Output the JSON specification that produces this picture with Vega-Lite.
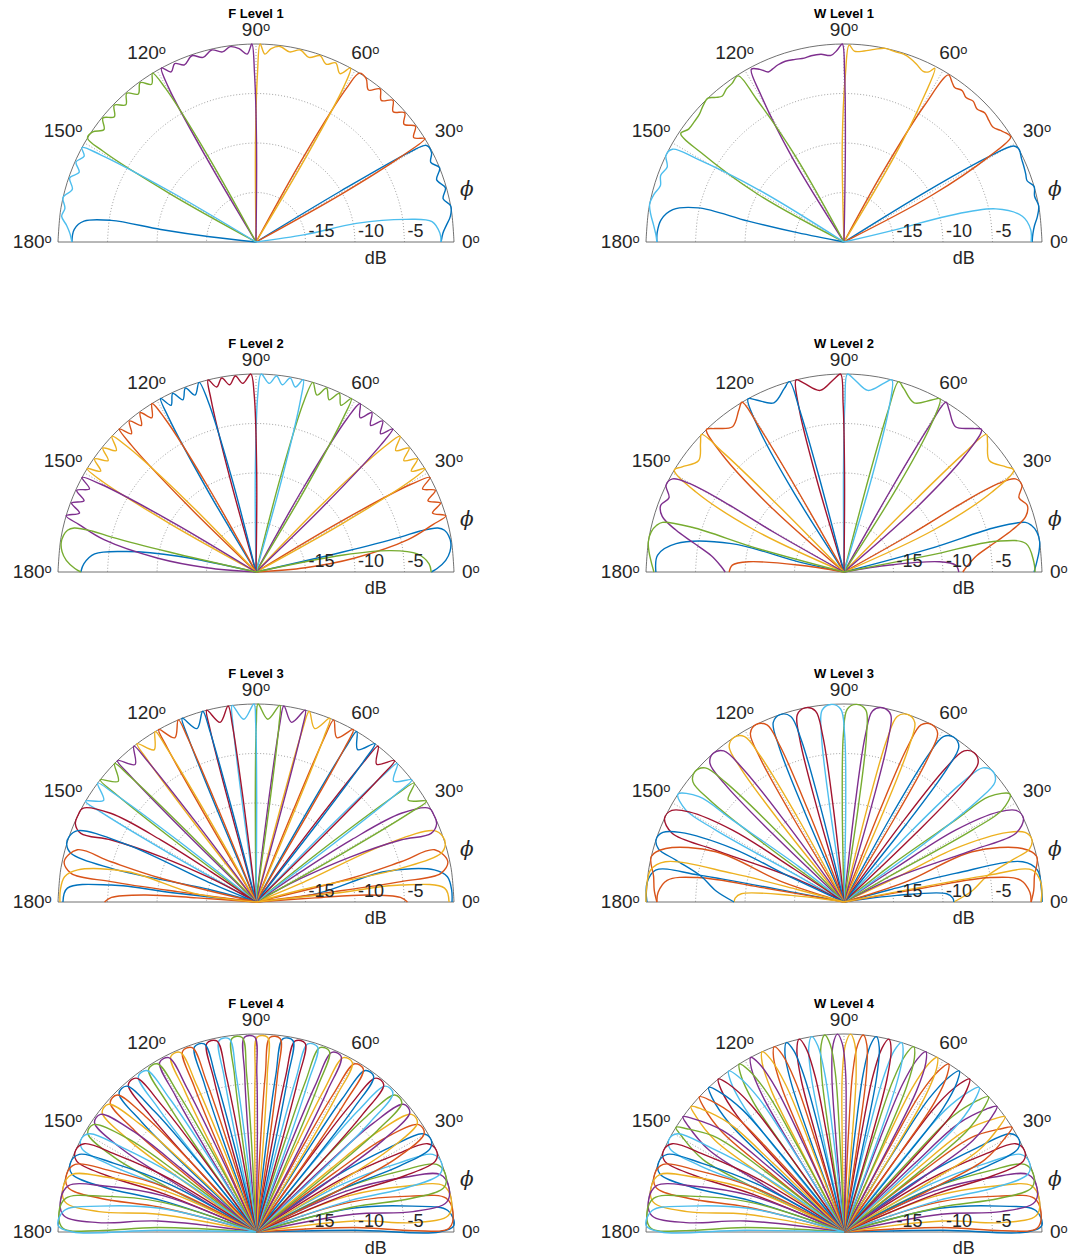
{"$schema":"https://vega.github.io/schema/vega-lite/v6.json","padding":{"left":12,"top":8,"right":5,"bottom":5},"bounds":"flush","columns":2,"spacing":{"row":132,"column":192},"config":{"view":{"stroke":null}},
"datasets":{
"grid":[
{"g":"r5","t":0,"r":5},{"g":"r5","t":10,"r":5},{"g":"r5","t":20,"r":5},{"g":"r5","t":30,"r":5},{"g":"r5","t":40,"r":5},{"g":"r5","t":50,"r":5},{"g":"r5","t":60,"r":5},{"g":"r5","t":70,"r":5},{"g":"r5","t":80,"r":5},{"g":"r5","t":90,"r":5},{"g":"r5","t":100,"r":5},{"g":"r5","t":110,"r":5},{"g":"r5","t":120,"r":5},{"g":"r5","t":130,"r":5},{"g":"r5","t":140,"r":5},{"g":"r5","t":150,"r":5},{"g":"r5","t":160,"r":5},{"g":"r5","t":170,"r":5},{"g":"r5","t":180,"r":5},
{"g":"r10","t":0,"r":10},{"g":"r10","t":10,"r":10},{"g":"r10","t":20,"r":10},{"g":"r10","t":30,"r":10},{"g":"r10","t":40,"r":10},{"g":"r10","t":50,"r":10},{"g":"r10","t":60,"r":10},{"g":"r10","t":70,"r":10},{"g":"r10","t":80,"r":10},{"g":"r10","t":90,"r":10},{"g":"r10","t":100,"r":10},{"g":"r10","t":110,"r":10},{"g":"r10","t":120,"r":10},{"g":"r10","t":130,"r":10},{"g":"r10","t":140,"r":10},{"g":"r10","t":150,"r":10},{"g":"r10","t":160,"r":10},{"g":"r10","t":170,"r":10},{"g":"r10","t":180,"r":10},
{"g":"r15","t":0,"r":15},{"g":"r15","t":10,"r":15},{"g":"r15","t":20,"r":15},{"g":"r15","t":30,"r":15},{"g":"r15","t":40,"r":15},{"g":"r15","t":50,"r":15},{"g":"r15","t":60,"r":15},{"g":"r15","t":70,"r":15},{"g":"r15","t":80,"r":15},{"g":"r15","t":90,"r":15},{"g":"r15","t":100,"r":15},{"g":"r15","t":110,"r":15},{"g":"r15","t":120,"r":15},{"g":"r15","t":130,"r":15},{"g":"r15","t":140,"r":15},{"g":"r15","t":150,"r":15},{"g":"r15","t":160,"r":15},{"g":"r15","t":170,"r":15},{"g":"r15","t":180,"r":15},
{"g":"rim","t":0,"r":20},{"g":"rim","t":10,"r":20},{"g":"rim","t":20,"r":20},{"g":"rim","t":30,"r":20},{"g":"rim","t":40,"r":20},{"g":"rim","t":50,"r":20},{"g":"rim","t":60,"r":20},{"g":"rim","t":70,"r":20},{"g":"rim","t":80,"r":20},{"g":"rim","t":90,"r":20},{"g":"rim","t":100,"r":20},{"g":"rim","t":110,"r":20},{"g":"rim","t":120,"r":20},{"g":"rim","t":130,"r":20},{"g":"rim","t":140,"r":20},{"g":"rim","t":150,"r":20},{"g":"rim","t":160,"r":20},{"g":"rim","t":170,"r":20},{"g":"rim","t":180,"r":20},
{"g":"s30","t":30,"r":0},{"g":"s30","t":30,"r":20},{"g":"s60","t":60,"r":0},{"g":"s60","t":60,"r":20},{"g":"s90","t":90,"r":0},{"g":"s90","t":90,"r":20},{"g":"s120","t":120,"r":0},{"g":"s120","t":120,"r":20},{"g":"s150","t":150,"r":0},{"g":"s150","t":150,"r":20},
{"g":"base","t":0,"r":20},{"g":"base","t":180,"r":20}],
"lab":[{"t":0,"s":"0ᵒ"},{"t":30,"s":"30ᵒ"},{"t":60,"s":"60ᵒ"},{"t":90,"s":"90ᵒ"},{"t":120,"s":"120ᵒ"},{"t":150,"s":"150ᵒ"},{"t":180,"s":"180ᵒ"}],
"dbl":[{"v":-15,"s":"-15"},{"v":-10,"s":"-10"},{"v":-5,"s":"-5"}],
"F1":[
{"b":1,"t":0,"d":-1.3},{"b":1,"t":2.7,"d":-1.1},{"b":1,"t":5,"d":-0.7},{"b":1,"t":7.5,"d":-0.2},{"b":1,"t":10.5,"d":0},{"b":1,"t":13,"d":-0.6},{"b":1,"t":16,"d":-0.1},{"b":1,"t":19,"d":-0.7},{"b":1,"t":22,"d":0},{"b":1,"t":24.5,"d":-0.6},{"b":1,"t":27,"d":-0.1},{"b":1,"t":29.5,"d":-0.2},{"b":1,"t":30.3,"d":-2},{"b":1,"t":31,"d":-10},{"b":1,"t":32,"d":-20},{"b":1,"t":173.5,"d":-20},{"b":1,"t":173.5,"d":-15.3},{"b":1,"t":172.5,"d":-10.3},{"b":1,"t":171.5,"d":-5.2},{"b":1,"t":173.1,"d":-2.5},{"b":1,"t":176,"d":-1.6},{"b":1,"t":180,"d":-1.4},
{"b":2,"t":28.5,"d":-20},{"b":2,"t":29.3,"d":-10},{"b":2,"t":30.5,"d":-3},{"b":2,"t":31.5,"d":0},{"b":2,"t":33.5,"d":-0.9},{"b":2,"t":36,"d":-0.1},{"b":2,"t":38.5,"d":-0.9},{"b":2,"t":41,"d":-0.1},{"b":2,"t":43.5,"d":-0.9},{"b":2,"t":46,"d":-0.1},{"b":2,"t":48.5,"d":-0.9},{"b":2,"t":51,"d":-0.1},{"b":2,"t":53.5,"d":-0.9},{"b":2,"t":56,"d":-0.1},{"b":2,"t":58.5,"d":0},{"b":2,"t":59.5,"d":-2},{"b":2,"t":60.8,"d":-10},{"b":2,"t":61.5,"d":-20},
{"b":3,"t":59,"d":-20},{"b":3,"t":59.5,"d":-10},{"b":3,"t":60.5,"d":-2},{"b":3,"t":61.5,"d":0},{"b":3,"t":63.5,"d":-1},{"b":3,"t":66,"d":-0.2},{"b":3,"t":68.5,"d":-0.7},{"b":3,"t":71,"d":-0.1},{"b":3,"t":74,"d":-0.6},{"b":3,"t":77,"d":-0.1},{"b":3,"t":80,"d":-0.5},{"b":3,"t":83,"d":-0.1},{"b":3,"t":85.5,"d":-0.4},{"b":3,"t":87.3,"d":-1},{"b":3,"t":88.8,"d":0},{"b":3,"t":89.5,"d":-3},{"b":3,"t":90.3,"d":-10},{"b":3,"t":90.6,"d":-20},
{"b":4,"t":89.4,"d":-20},{"b":4,"t":89.7,"d":-10},{"b":4,"t":90.5,"d":-3},{"b":4,"t":91.2,"d":0},{"b":4,"t":92.7,"d":-1},{"b":4,"t":95,"d":-0.4},{"b":4,"t":97.5,"d":-0.1},{"b":4,"t":100,"d":-0.5},{"b":4,"t":103,"d":-0.1},{"b":4,"t":106,"d":-0.6},{"b":4,"t":109,"d":-0.1},{"b":4,"t":112,"d":-0.7},{"b":4,"t":114.5,"d":-0.2},{"b":4,"t":116.5,"d":-0.8},{"b":4,"t":118.5,"d":0},{"b":4,"t":119.5,"d":-2},{"b":4,"t":120.5,"d":-10},{"b":4,"t":121,"d":-20},
{"b":5,"t":118.5,"d":-20},{"b":5,"t":119.2,"d":-10},{"b":5,"t":120.5,"d":-2},{"b":5,"t":121.5,"d":0},{"b":5,"t":123.5,"d":-0.9},{"b":5,"t":126,"d":-0.1},{"b":5,"t":128.5,"d":-0.9},{"b":5,"t":131,"d":-0.1},{"b":5,"t":133.5,"d":-0.9},{"b":5,"t":136,"d":-0.1},{"b":5,"t":138.5,"d":-0.9},{"b":5,"t":141,"d":-0.1},{"b":5,"t":143.5,"d":-0.9},{"b":5,"t":146,"d":-0.1},{"b":5,"t":148.3,"d":0},{"b":5,"t":149.3,"d":-2},{"b":5,"t":150.7,"d":-10},{"b":5,"t":151.5,"d":-20},
{"b":6,"t":0,"d":-1.3},{"b":6,"t":2.7,"d":-1.4},{"b":6,"t":6.6,"d":-2.1},{"b":6,"t":8.6,"d":-4.7},{"b":6,"t":10.5,"d":-9.7},{"b":6,"t":8.5,"d":-15},{"b":6,"t":8,"d":-20},{"b":6,"t":148.5,"d":-20},{"b":6,"t":149.5,"d":-10},{"b":6,"t":150.7,"d":-2},{"b":6,"t":151.5,"d":0},{"b":6,"t":153.5,"d":-0.6},{"b":6,"t":156,"d":-0.1},{"b":6,"t":158.5,"d":-0.8},{"b":6,"t":161,"d":-0.1},{"b":6,"t":164,"d":-0.7},{"b":6,"t":167,"d":0},{"b":6,"t":170,"d":-0.4},{"b":6,"t":172.5,"d":-0.2},{"b":6,"t":175,"d":-0.8},{"b":6,"t":177.5,"d":-1.2},{"b":6,"t":180,"d":-1.4}],
"W1":[
{"b":1,"t":0,"d":-1},{"b":1,"t":2.5,"d":-0.9},{"b":1,"t":4.8,"d":-0.7},{"b":1,"t":7.5,"d":-0.3},{"b":1,"t":10.5,"d":0},{"b":1,"t":13.5,"d":-0.2},{"b":1,"t":16.3,"d":0},{"b":1,"t":18.5,"d":-0.5},{"b":1,"t":20.5,"d":-0.4},{"b":1,"t":22.7,"d":-0.3},{"b":1,"t":25,"d":-0.2},{"b":1,"t":28,"d":0},{"b":1,"t":29.5,"d":-0.3},{"b":1,"t":30.5,"d":-3},{"b":1,"t":31.5,"d":-10},{"b":1,"t":32,"d":-20},{"b":1,"t":169.5,"d":-20},{"b":1,"t":168.7,"d":-15.2},{"b":1,"t":167.7,"d":-10.1},{"b":1,"t":166.8,"d":-4.9},{"b":1,"t":169.3,"d":-2.4},{"b":1,"t":173,"d":-1.4},{"b":1,"t":177.2,"d":-1.1},{"b":1,"t":180,"d":-1.1},
{"b":2,"t":27,"d":-20},{"b":2,"t":28,"d":-10},{"b":2,"t":30.5,"d":-3},{"b":2,"t":32.2,"d":-0.1},{"b":2,"t":34,"d":-0.3},{"b":2,"t":35.5,"d":-0.6},{"b":2,"t":37.7,"d":-1},{"b":2,"t":40,"d":-0.9},{"b":2,"t":42.5,"d":-0.7},{"b":2,"t":45,"d":-1},{"b":2,"t":47.5,"d":-0.7},{"b":2,"t":49.8,"d":-0.9},{"b":2,"t":52,"d":-0.6},{"b":2,"t":54.4,"d":-0.8},{"b":2,"t":56,"d":-0.5},{"b":2,"t":58,"d":-0.1},{"b":2,"t":59.5,"d":-4},{"b":2,"t":61,"d":-12},{"b":2,"t":61.5,"d":-20},
{"b":3,"t":59,"d":-20},{"b":3,"t":59.5,"d":-10},{"b":3,"t":61,"d":-4},{"b":3,"t":62.4,"d":-0.2},{"b":3,"t":63.5,"d":-0.8},{"b":3,"t":65.1,"d":-1},{"b":3,"t":67.8,"d":-0.6},{"b":3,"t":70,"d":-0.3},{"b":3,"t":72.4,"d":-0.1},{"b":3,"t":75,"d":-0.1},{"b":3,"t":78,"d":0},{"b":3,"t":81,"d":-0.3},{"b":3,"t":84,"d":-0.6},{"b":3,"t":86.9,"d":-0.7},{"b":3,"t":88.5,"d":-0.1},{"b":3,"t":89.5,"d":-3},{"b":3,"t":91,"d":-10},{"b":3,"t":91.5,"d":-20},
{"b":4,"t":89,"d":-20},{"b":4,"t":89.2,"d":-10},{"b":4,"t":89.8,"d":-3},{"b":4,"t":90.5,"d":0},{"b":4,"t":92,"d":-0.6},{"b":4,"t":94,"d":-1.1},{"b":4,"t":97,"d":-0.9},{"b":4,"t":100,"d":-0.9},{"b":4,"t":102.2,"d":-1},{"b":4,"t":105,"d":-0.9},{"b":4,"t":108,"d":-0.8},{"b":4,"t":110.4,"d":-0.9},{"b":4,"t":112.5,"d":-1.1},{"b":4,"t":114,"d":-1.2},{"b":4,"t":116,"d":-0.6},{"b":4,"t":118.2,"d":-0.2},{"b":4,"t":119.5,"d":-3},{"b":4,"t":121.5,"d":-10},{"b":4,"t":122.5,"d":-20},
{"b":5,"t":118.5,"d":-20},{"b":5,"t":119.5,"d":-10},{"b":5,"t":121.5,"d":-3},{"b":5,"t":122.5,"d":-0.1},{"b":5,"t":125.3,"d":-0.4},{"b":5,"t":127.5,"d":-0.5},{"b":5,"t":129.8,"d":-0.8},{"b":5,"t":131.5,"d":-0.5},{"b":5,"t":133.4,"d":0},{"b":5,"t":136,"d":-0.2},{"b":5,"t":138.5,"d":-0.5},{"b":5,"t":141,"d":-0.6},{"b":5,"t":144,"d":-0.6},{"b":5,"t":146.4,"d":-0.2},{"b":5,"t":148,"d":-3},{"b":5,"t":151,"d":-10},{"b":5,"t":153,"d":-20},
{"b":6,"t":0,"d":-1.1},{"b":6,"t":3.8,"d":-1.1},{"b":6,"t":8.2,"d":-1.8},{"b":6,"t":12.3,"d":-4.3},{"b":6,"t":14.1,"d":-9.3},{"b":6,"t":13.4,"d":-14.5},{"b":6,"t":13,"d":-20},{"b":6,"t":147.5,"d":-20},{"b":6,"t":148.5,"d":-10},{"b":6,"t":150.5,"d":-3},{"b":6,"t":151.6,"d":-0.3},{"b":6,"t":154,"d":0},{"b":6,"t":157,"d":-0.6},{"b":6,"t":160,"d":-0.3},{"b":6,"t":163,"d":-0.6},{"b":6,"t":166,"d":-0.2},{"b":6,"t":169,"d":0},{"b":6,"t":172,"d":-0.3},{"b":6,"t":175,"d":-0.7},{"b":6,"t":178,"d":-1},{"b":6,"t":180,"d":-1.1}],
"F2":[
{"b":1,"t":0,"d":-2.3},{"b":1,"t":1.1,"d":-1.7},{"b":1,"t":3.5,"d":-0.8},{"b":1,"t":6,"d":-0.3},{"b":1,"t":8.5,"d":-0.1},{"b":1,"t":10.7,"d":-0.2},{"b":1,"t":12.5,"d":-0.5},{"b":1,"t":13.6,"d":-1.1},{"b":1,"t":14,"d":-3},{"b":1,"t":13.6,"d":-5},{"b":1,"t":13,"d":-11},{"b":1,"t":12,"d":-20},{"b":1,"t":169,"d":-20},{"b":1,"t":168.5,"d":-12},{"b":1,"t":171,"d":-6.8},{"b":1,"t":173.6,"d":-3.6},{"b":1,"t":177.2,"d":-2.6},{"b":1,"t":180,"d":-2.3},
{"b":2,"t":3,"d":-20},{"b":2,"t":5,"d":-15},{"b":2,"t":8,"d":-10},{"b":2,"t":12,"d":-4.3},{"b":2,"t":15,"d":-1.5},{"b":2,"t":16.5,"d":0},{"b":2,"t":18.5,"d":-1.2},{"b":2,"t":20.5,"d":-0.1},{"b":2,"t":22.5,"d":-1.2},{"b":2,"t":24.5,"d":-0.1},{"b":2,"t":26.5,"d":-1.2},{"b":2,"t":28.5,"d":0},{"b":2,"t":29.5,"d":-2},{"b":2,"t":30.8,"d":-10},{"b":2,"t":31.5,"d":-20},
{"b":3,"t":28.5,"d":-20},{"b":3,"t":29.3,"d":-10},{"b":3,"t":30.5,"d":-2},{"b":3,"t":31.5,"d":0},{"b":3,"t":33,"d":-1.3},{"b":3,"t":35,"d":-0.1},{"b":3,"t":37,"d":-1.3},{"b":3,"t":39,"d":-0.1},{"b":3,"t":41,"d":-1.3},{"b":3,"t":43.3,"d":0},{"b":3,"t":44.3,"d":-2},{"b":3,"t":45.7,"d":-10},{"b":3,"t":46.5,"d":-20},
{"b":4,"t":43.5,"d":-20},{"b":4,"t":44.3,"d":-10},{"b":4,"t":45.5,"d":-2},{"b":4,"t":46.3,"d":0},{"b":4,"t":48,"d":-1.2},{"b":4,"t":50,"d":-0.1},{"b":4,"t":52,"d":-1.2},{"b":4,"t":54,"d":-0.1},{"b":4,"t":56,"d":-1.2},{"b":4,"t":58.3,"d":0},{"b":4,"t":59.3,"d":-2},{"b":4,"t":60.6,"d":-10},{"b":4,"t":61.3,"d":-20},
{"b":5,"t":58.7,"d":-20},{"b":5,"t":59.4,"d":-10},{"b":5,"t":60.5,"d":-2},{"b":5,"t":61.2,"d":0},{"b":5,"t":63,"d":-1.1},{"b":5,"t":65,"d":-0.1},{"b":5,"t":67,"d":-1.1},{"b":5,"t":69,"d":-0.1},{"b":5,"t":71,"d":-1.1},{"b":5,"t":73.3,"d":0},{"b":5,"t":74.3,"d":-2},{"b":5,"t":75.5,"d":-10},{"b":5,"t":76.1,"d":-20},
{"b":6,"t":73.9,"d":-20},{"b":6,"t":74.5,"d":-10},{"b":6,"t":75.5,"d":-2},{"b":6,"t":76.2,"d":0},{"b":6,"t":78,"d":-0.9},{"b":6,"t":80,"d":-0.1},{"b":6,"t":82,"d":-0.9},{"b":6,"t":84,"d":-0.1},{"b":6,"t":86,"d":-0.9},{"b":6,"t":88.5,"d":0},{"b":6,"t":89.4,"d":-2},{"b":6,"t":90.4,"d":-10},{"b":6,"t":91,"d":-20},
{"b":7,"t":89,"d":-20},{"b":7,"t":89.6,"d":-10},{"b":7,"t":90.6,"d":-2},{"b":7,"t":91.5,"d":0},{"b":7,"t":94,"d":-0.9},{"b":7,"t":96,"d":-0.1},{"b":7,"t":98,"d":-0.9},{"b":7,"t":100,"d":-0.1},{"b":7,"t":102,"d":-0.9},{"b":7,"t":104,"d":0},{"b":7,"t":104.6,"d":-2},{"b":7,"t":105.5,"d":-10},{"b":7,"t":106.1,"d":-20},
{"b":8,"t":103.9,"d":-20},{"b":8,"t":104.5,"d":-10},{"b":8,"t":105.7,"d":-2},{"b":8,"t":106.7,"d":0},{"b":8,"t":109,"d":-1.1},{"b":8,"t":111,"d":-0.1},{"b":8,"t":113,"d":-1.1},{"b":8,"t":115,"d":-0.1},{"b":8,"t":117,"d":-1.1},{"b":8,"t":118.8,"d":0},{"b":8,"t":119.5,"d":-2},{"b":8,"t":120.6,"d":-10},{"b":8,"t":121.3,"d":-20},
{"b":9,"t":118.7,"d":-20},{"b":9,"t":119.4,"d":-10},{"b":9,"t":120.7,"d":-2},{"b":9,"t":121.7,"d":0},{"b":9,"t":124,"d":-1.2},{"b":9,"t":126,"d":-0.1},{"b":9,"t":128,"d":-1.2},{"b":9,"t":130,"d":-0.1},{"b":9,"t":132,"d":-1.2},{"b":9,"t":133.7,"d":0},{"b":9,"t":134.5,"d":-2},{"b":9,"t":135.7,"d":-10},{"b":9,"t":136.5,"d":-20},
{"b":10,"t":133.5,"d":-20},{"b":10,"t":134.3,"d":-10},{"b":10,"t":135.7,"d":-2},{"b":10,"t":136.7,"d":0},{"b":10,"t":139,"d":-1.3},{"b":10,"t":141,"d":-0.1},{"b":10,"t":143,"d":-1.3},{"b":10,"t":145,"d":-0.1},{"b":10,"t":147,"d":-1.3},{"b":10,"t":148.5,"d":0},{"b":10,"t":149.5,"d":-2},{"b":10,"t":150.7,"d":-10},{"b":10,"t":151.5,"d":-20},
{"b":11,"t":148.5,"d":-20},{"b":11,"t":149.2,"d":-10},{"b":11,"t":150.5,"d":-2},{"b":11,"t":151.5,"d":0},{"b":11,"t":153.5,"d":-1.2},{"b":11,"t":155.5,"d":-0.1},{"b":11,"t":157.5,"d":-1.2},{"b":11,"t":159.5,"d":-0.1},{"b":11,"t":161.5,"d":-1.2},{"b":11,"t":163.5,"d":0},{"b":11,"t":165,"d":-1.5},{"b":11,"t":168,"d":-4.3},{"b":11,"t":172,"d":-10},{"b":11,"t":175,"d":-15},{"b":11,"t":177,"d":-20},
{"b":12,"t":0,"d":-2.3},{"b":12,"t":2.7,"d":-2.5},{"b":12,"t":6.4,"d":-3.6},{"b":12,"t":9,"d":-6.2},{"b":12,"t":11,"d":-11},{"b":12,"t":11,"d":-20},{"b":12,"t":168,"d":-20},{"b":12,"t":167,"d":-11},{"b":12,"t":166.4,"d":-5},{"b":12,"t":166,"d":-3},{"b":12,"t":166.4,"d":-1.1},{"b":12,"t":167.5,"d":-0.5},{"b":12,"t":169.3,"d":-0.2},{"b":12,"t":171.5,"d":-0.1},{"b":12,"t":174,"d":-0.3},{"b":12,"t":176.5,"d":-0.8},{"b":12,"t":178.9,"d":-1.7},{"b":12,"t":180,"d":-2.3}],
"W2":[
{"b":1,"t":0,"d":-0.8},{"b":1,"t":3,"d":-0.5},{"b":1,"t":5.9,"d":-0.2},{"b":1,"t":8.8,"d":0},{"b":1,"t":11.7,"d":-0.1},{"b":1,"t":14,"d":-0.5},{"b":1,"t":15.3,"d":-1},{"b":1,"t":16.4,"d":-4},{"b":1,"t":15.2,"d":-11},{"b":1,"t":14,"d":-20},{"b":1,"t":167,"d":-20},{"b":1,"t":167.4,"d":-15.3},{"b":1,"t":165.8,"d":-8.3},{"b":1,"t":170.4,"d":-2.8},{"b":1,"t":174.8,"d":-1.1},{"b":1,"t":180,"d":-1},
{"b":2,"t":0,"d":-8},{"b":2,"t":3,"d":-7.5},{"b":2,"t":7,"d":-6.5},{"b":2,"t":11,"d":-4.5},{"b":2,"t":14,"d":-2.5},{"b":2,"t":17,"d":-0.8},{"b":2,"t":20,"d":-0.3},{"b":2,"t":23,"d":-0.8},{"b":2,"t":26,"d":0},{"b":2,"t":28.5,"d":-0.3},{"b":2,"t":29.8,"d":-2},{"b":2,"t":30.3,"d":-6},{"b":2,"t":29.5,"d":-12},{"b":2,"t":28.5,"d":-20},{"b":2,"t":171,"d":-20},{"b":2,"t":171.4,"d":-15.3},{"b":2,"t":173.9,"d":-10.3},{"b":2,"t":176.5,"d":-8.7},{"b":2,"t":180,"d":-8.4},
{"b":3,"t":23.9,"d":-20},{"b":3,"t":25.1,"d":-10},{"b":3,"t":28.4,"d":-3},{"b":3,"t":31,"d":0},{"b":3,"t":33,"d":-0.5},{"b":3,"t":37.5,"d":-1.5},{"b":3,"t":42,"d":-0.5},{"b":3,"t":44,"d":0},{"b":3,"t":44.7,"d":-3},{"b":3,"t":45.3,"d":-10},{"b":3,"t":45.6,"d":-20},
{"b":4,"t":40.8,"d":-20},{"b":4,"t":41.7,"d":-10},{"b":4,"t":43.9,"d":-3},{"b":4,"t":46,"d":0},{"b":4,"t":48,"d":-0.5},{"b":4,"t":52.5,"d":-1.5},{"b":4,"t":57,"d":-0.5},{"b":4,"t":59,"d":0},{"b":4,"t":59.7,"d":-3},{"b":4,"t":60.3,"d":-10},{"b":4,"t":60.6,"d":-20},
{"b":5,"t":57.1,"d":-20},{"b":5,"t":57.8,"d":-10},{"b":5,"t":59.3,"d":-3},{"b":5,"t":61,"d":0},{"b":5,"t":63,"d":-0.5},{"b":5,"t":67.5,"d":-1.5},{"b":5,"t":72,"d":-0.5},{"b":5,"t":74,"d":0},{"b":5,"t":74.7,"d":-3},{"b":5,"t":75.3,"d":-10},{"b":5,"t":75.6,"d":-20},
{"b":6,"t":73,"d":-20},{"b":6,"t":73.6,"d":-10},{"b":6,"t":74.6,"d":-3},{"b":6,"t":76,"d":0},{"b":6,"t":78,"d":-0.5},{"b":6,"t":82.5,"d":-1.5},{"b":6,"t":87,"d":-0.5},{"b":6,"t":89,"d":0},{"b":6,"t":89.7,"d":-3},{"b":6,"t":90.3,"d":-10},{"b":6,"t":90.6,"d":-20},
{"b":7,"t":89.4,"d":-20},{"b":7,"t":89.7,"d":-10},{"b":7,"t":90.3,"d":-3},{"b":7,"t":91,"d":0},{"b":7,"t":93,"d":-0.5},{"b":7,"t":97.5,"d":-1.5},{"b":7,"t":102,"d":-0.5},{"b":7,"t":104,"d":0},{"b":7,"t":105.4,"d":-3},{"b":7,"t":106.4,"d":-10},{"b":7,"t":107,"d":-20},
{"b":8,"t":104.4,"d":-20},{"b":8,"t":104.7,"d":-10},{"b":8,"t":105.3,"d":-3},{"b":8,"t":106,"d":0},{"b":8,"t":108,"d":-0.5},{"b":8,"t":112.5,"d":-1.5},{"b":8,"t":117,"d":-0.5},{"b":8,"t":119,"d":0},{"b":8,"t":120.7,"d":-3},{"b":8,"t":122.2,"d":-10},{"b":8,"t":122.9,"d":-20},
{"b":9,"t":119.4,"d":-20},{"b":9,"t":119.7,"d":-10},{"b":9,"t":120.3,"d":-3},{"b":9,"t":121,"d":0},{"b":9,"t":123,"d":-0.5},{"b":9,"t":127.5,"d":-1.5},{"b":9,"t":132,"d":-0.5},{"b":9,"t":134,"d":0},{"b":9,"t":136.1,"d":-3},{"b":9,"t":138.3,"d":-10},{"b":9,"t":139.2,"d":-20},
{"b":10,"t":134.4,"d":-20},{"b":10,"t":134.7,"d":-10},{"b":10,"t":135.3,"d":-3},{"b":10,"t":136,"d":0},{"b":10,"t":138,"d":-0.5},{"b":10,"t":142.5,"d":-1.5},{"b":10,"t":147,"d":-0.5},{"b":10,"t":149,"d":0},{"b":10,"t":151.6,"d":-3},{"b":10,"t":154.9,"d":-10},{"b":10,"t":156.1,"d":-20},
{"b":11,"t":0,"d":-8.4},{"b":11,"t":3.5,"d":-8.7},{"b":11,"t":6.1,"d":-10.3},{"b":11,"t":8.6,"d":-15.3},{"b":11,"t":9,"d":-20},{"b":11,"t":151.5,"d":-20},{"b":11,"t":150.5,"d":-12},{"b":11,"t":149.7,"d":-6},{"b":11,"t":150.2,"d":-2},{"b":11,"t":151.5,"d":-0.3},{"b":11,"t":154,"d":0},{"b":11,"t":157,"d":-0.8},{"b":11,"t":160,"d":-0.3},{"b":11,"t":163,"d":-0.8},{"b":11,"t":166,"d":-2.5},{"b":11,"t":169,"d":-4.5},{"b":11,"t":173,"d":-6.5},{"b":11,"t":177,"d":-7.5},{"b":11,"t":180,"d":-8},
{"b":12,"t":0,"d":-0.7},{"b":12,"t":3.1,"d":-0.8},{"b":12,"t":8.9,"d":-1.4},{"b":12,"t":11.4,"d":-4.3},{"b":12,"t":11,"d":-11.1},{"b":12,"t":11.5,"d":-20},{"b":12,"t":166,"d":-20},{"b":12,"t":164.8,"d":-11},{"b":12,"t":163.6,"d":-4},{"b":12,"t":164.7,"d":-1},{"b":12,"t":166,"d":-0.5},{"b":12,"t":168.3,"d":-0.1},{"b":12,"t":171.2,"d":0},{"b":12,"t":174.1,"d":-0.2},{"b":12,"t":177,"d":-0.5},{"b":12,"t":180,"d":-0.8}],
"F3":[
{"b":1,"t":0,"d":-0.2},{"b":1,"t":3.5,"d":-0.2},{"b":1,"t":7.5,"d":-0.5},{"b":1,"t":10.2,"d":-1.7},{"b":1,"t":13.3,"d":-6.7},{"b":1,"t":8,"d":-13.7},{"b":1,"t":8,"d":-20},{"b":1,"t":174,"d":-20},{"b":1,"t":173.7,"d":-12},{"b":1,"t":173.3,"d":-5.3},{"b":1,"t":175.8,"d":-0.9},{"b":1,"t":180,"d":-0.5},
{"b":2,"t":7,"d":-20},{"b":2,"t":7.5,"d":-12},{"b":2,"t":8,"d":-5.2},{"b":2,"t":8.8,"d":-1.1},{"b":2,"t":11.9,"d":-0.2},{"b":2,"t":16.3,"d":-1.2},{"b":2,"t":15.5,"d":-4.8},{"b":2,"t":14,"d":-10.1},{"b":2,"t":13,"d":-20},{"b":2,"t":176,"d":-20},{"b":2,"t":176,"d":-14},{"b":2,"t":176.4,"d":-8.7},{"b":2,"t":178.2,"d":-5.4},{"b":2,"t":180,"d":-4.7},
{"b":3,"t":15.5,"d":-20},{"b":3,"t":15,"d":-15.3},{"b":3,"t":13.1,"d":-5},{"b":3,"t":14.7,"d":-0.7},{"b":3,"t":17,"d":0},{"b":3,"t":19.3,"d":0},{"b":3,"t":21.8,"d":-0.6},{"b":3,"t":24,"d":-5.8},{"b":3,"t":22.5,"d":-15.1},{"b":3,"t":22,"d":-20},
{"b":4,"t":27.5,"d":-20},{"b":4,"t":27.7,"d":-15},{"b":4,"t":25.5,"d":-9.4},{"b":4,"t":23.2,"d":-4.1},{"b":4,"t":21.4,"d":-1},{"b":4,"t":23.5,"d":-0.1},{"b":4,"t":26,"d":0},{"b":4,"t":28.4,"d":-0.1},{"b":4,"t":31.4,"d":-2.8},{"b":4,"t":33.1,"d":-8.5},{"b":4,"t":34,"d":-14.5},{"b":4,"t":33,"d":-20},
{"b":5,"t":28.9,"d":-20},{"b":5,"t":29.3,"d":-10},{"b":5,"t":30.1,"d":-2},{"b":5,"t":30.6,"d":0},{"b":5,"t":33.8,"d":-1.5},{"b":5,"t":36.9,"d":0},{"b":5,"t":37.4,"d":-2},{"b":5,"t":38.2,"d":-10},{"b":5,"t":38.6,"d":-20},
{"b":6,"t":36.6,"d":-20},{"b":6,"t":36.9,"d":-10},{"b":6,"t":37.6,"d":-2},{"b":6,"t":38.1,"d":0},{"b":6,"t":41.3,"d":-1.5},{"b":6,"t":44.4,"d":0},{"b":6,"t":44.9,"d":-2},{"b":6,"t":45.6,"d":-10},{"b":6,"t":45.9,"d":-20},
{"b":7,"t":44.2,"d":-20},{"b":7,"t":44.5,"d":-10},{"b":7,"t":45.1,"d":-2},{"b":7,"t":45.6,"d":0},{"b":7,"t":48.8,"d":-1.5},{"b":7,"t":51.9,"d":0},{"b":7,"t":52.4,"d":-2},{"b":7,"t":53,"d":-10},{"b":7,"t":53.3,"d":-20},
{"b":8,"t":51.8,"d":-20},{"b":8,"t":52,"d":-10},{"b":8,"t":52.6,"d":-2},{"b":8,"t":53.1,"d":0},{"b":8,"t":56.3,"d":-1.5},{"b":8,"t":59.4,"d":0},{"b":8,"t":59.9,"d":-2},{"b":8,"t":60.5,"d":-10},{"b":8,"t":60.7,"d":-20},
{"b":9,"t":59.3,"d":-20},{"b":9,"t":59.6,"d":-10},{"b":9,"t":60.1,"d":-2},{"b":9,"t":60.6,"d":0},{"b":9,"t":63.8,"d":-1.5},{"b":9,"t":66.9,"d":0},{"b":9,"t":67.4,"d":-2},{"b":9,"t":67.9,"d":-10},{"b":9,"t":68.2,"d":-20},
{"b":10,"t":66.9,"d":-20},{"b":10,"t":67.1,"d":-10},{"b":10,"t":67.6,"d":-2},{"b":10,"t":68.1,"d":0},{"b":10,"t":71.3,"d":-1.5},{"b":10,"t":74.4,"d":0},{"b":10,"t":74.9,"d":-2},{"b":10,"t":75.4,"d":-10},{"b":10,"t":75.6,"d":-20},
{"b":11,"t":74.4,"d":-20},{"b":11,"t":74.6,"d":-10},{"b":11,"t":75.1,"d":-2},{"b":11,"t":75.6,"d":0},{"b":11,"t":78.8,"d":-1.5},{"b":11,"t":81.9,"d":0},{"b":11,"t":82.4,"d":-2},{"b":11,"t":82.9,"d":-10},{"b":11,"t":83.1,"d":-20},
{"b":12,"t":81.9,"d":-20},{"b":12,"t":82.1,"d":-10},{"b":12,"t":82.6,"d":-2},{"b":12,"t":83.1,"d":0},{"b":12,"t":86.3,"d":-1.5},{"b":12,"t":89.4,"d":0},{"b":12,"t":89.9,"d":-2},{"b":12,"t":90.4,"d":-10},{"b":12,"t":90.6,"d":-20},
{"b":13,"t":89.4,"d":-20},{"b":13,"t":89.6,"d":-10},{"b":13,"t":90.1,"d":-2},{"b":13,"t":90.6,"d":0},{"b":13,"t":93.8,"d":-1.5},{"b":13,"t":96.9,"d":0},{"b":13,"t":97.4,"d":-2},{"b":13,"t":97.9,"d":-10},{"b":13,"t":98.1,"d":-20},
{"b":14,"t":96.9,"d":-20},{"b":14,"t":97.1,"d":-10},{"b":14,"t":97.6,"d":-2},{"b":14,"t":98.1,"d":0},{"b":14,"t":101.3,"d":-1.5},{"b":14,"t":104.4,"d":0},{"b":14,"t":104.9,"d":-2},{"b":14,"t":105.4,"d":-10},{"b":14,"t":105.6,"d":-20},
{"b":15,"t":104.4,"d":-20},{"b":15,"t":104.6,"d":-10},{"b":15,"t":105.1,"d":-2},{"b":15,"t":105.6,"d":0},{"b":15,"t":108.8,"d":-1.5},{"b":15,"t":111.9,"d":0},{"b":15,"t":112.4,"d":-2},{"b":15,"t":112.9,"d":-10},{"b":15,"t":113.1,"d":-20},
{"b":16,"t":111.8,"d":-20},{"b":16,"t":112.1,"d":-10},{"b":16,"t":112.6,"d":-2},{"b":16,"t":113.1,"d":0},{"b":16,"t":116.3,"d":-1.5},{"b":16,"t":119.4,"d":0},{"b":16,"t":119.9,"d":-2},{"b":16,"t":120.4,"d":-10},{"b":16,"t":120.7,"d":-20},
{"b":17,"t":119.3,"d":-20},{"b":17,"t":119.5,"d":-10},{"b":17,"t":120.1,"d":-2},{"b":17,"t":120.6,"d":0},{"b":17,"t":123.8,"d":-1.5},{"b":17,"t":126.9,"d":0},{"b":17,"t":127.4,"d":-2},{"b":17,"t":128,"d":-10},{"b":17,"t":128.2,"d":-20},
{"b":18,"t":126.7,"d":-20},{"b":18,"t":127,"d":-10},{"b":18,"t":127.6,"d":-2},{"b":18,"t":128.1,"d":0},{"b":18,"t":131.3,"d":-1.5},{"b":18,"t":134.4,"d":0},{"b":18,"t":134.9,"d":-2},{"b":18,"t":135.5,"d":-10},{"b":18,"t":135.8,"d":-20},
{"b":19,"t":134.1,"d":-20},{"b":19,"t":134.4,"d":-10},{"b":19,"t":135.1,"d":-2},{"b":19,"t":135.6,"d":0},{"b":19,"t":138.8,"d":-1.5},{"b":19,"t":141.9,"d":0},{"b":19,"t":142.4,"d":-2},{"b":19,"t":143.1,"d":-10},{"b":19,"t":143.4,"d":-20},
{"b":20,"t":141.4,"d":-20},{"b":20,"t":141.8,"d":-10},{"b":20,"t":142.6,"d":-2},{"b":20,"t":143.1,"d":0},{"b":20,"t":146.3,"d":-1.5},{"b":20,"t":149.4,"d":0},{"b":20,"t":149.9,"d":-2},{"b":20,"t":150.7,"d":-10},{"b":20,"t":151.1,"d":-20},
{"b":21,"t":147,"d":-20},{"b":21,"t":146,"d":-14.5},{"b":21,"t":146.9,"d":-8.5},{"b":21,"t":148.6,"d":-2.8},{"b":21,"t":151.6,"d":-0.1},{"b":21,"t":154,"d":0},{"b":21,"t":156.5,"d":-0.1},{"b":21,"t":158.6,"d":-1},{"b":21,"t":156.8,"d":-4.1},{"b":21,"t":154.5,"d":-9.4},{"b":21,"t":152.3,"d":-15},{"b":21,"t":152.5,"d":-20},
{"b":22,"t":158,"d":-20},{"b":22,"t":157.5,"d":-15.1},{"b":22,"t":156,"d":-5.8},{"b":22,"t":158.2,"d":-0.6},{"b":22,"t":160.7,"d":0},{"b":22,"t":163,"d":0},{"b":22,"t":165.3,"d":-0.7},{"b":22,"t":166.9,"d":-5},{"b":22,"t":165,"d":-15.3},{"b":22,"t":164.5,"d":-20},
{"b":23,"t":0,"d":-4.7},{"b":23,"t":1.8,"d":-5.4},{"b":23,"t":3.6,"d":-8.7},{"b":23,"t":4,"d":-14},{"b":23,"t":4,"d":-20},{"b":23,"t":167,"d":-20},{"b":23,"t":166,"d":-10.1},{"b":23,"t":164.5,"d":-4.8},{"b":23,"t":163.7,"d":-1.2},{"b":23,"t":168.1,"d":-0.2},{"b":23,"t":171.2,"d":-1.1},{"b":23,"t":172,"d":-5.2},{"b":23,"t":172.5,"d":-12},{"b":23,"t":173,"d":-20},
{"b":24,"t":0,"d":-0.5},{"b":24,"t":4.2,"d":-0.9},{"b":24,"t":6.7,"d":-5.3},{"b":24,"t":6.3,"d":-12},{"b":24,"t":6,"d":-20},{"b":24,"t":172,"d":-20},{"b":24,"t":172,"d":-13.7},{"b":24,"t":166.7,"d":-6.7},{"b":24,"t":169.8,"d":-1.7},{"b":24,"t":172.5,"d":-0.5},{"b":24,"t":176.5,"d":-0.2},{"b":24,"t":180,"d":-0.2}],
"W3":[
{"b":1,"t":0,"d":0},{"b":1,"t":3.5,"d":0},{"b":1,"t":9.4,"d":-0.2},{"b":1,"t":12.7,"d":-1.5},{"b":1,"t":14.4,"d":-8.4},{"b":1,"t":15,"d":-15.3},{"b":1,"t":15,"d":-20},{"b":1,"t":169,"d":-20},{"b":1,"t":169.1,"d":-15.4},{"b":1,"t":169.5,"d":-5.1},{"b":1,"t":170.4,"d":-0.7},{"b":1,"t":174.6,"d":0},{"b":1,"t":180,"d":-0.1},
{"b":2,"t":0,"d":-1.1},{"b":2,"t":3.5,"d":-0.8},{"b":2,"t":7.6,"d":-0.6},{"b":2,"t":13.3,"d":0},{"b":2,"t":16.7,"d":-1.2},{"b":2,"t":21.4,"d":-6.1},{"b":2,"t":18,"d":-13.5},{"b":2,"t":17,"d":-20},{"b":2,"t":170,"d":-20},{"b":2,"t":170,"d":-12},{"b":2,"t":170.5,"d":-5},{"b":2,"t":173,"d":-2},{"b":2,"t":177,"d":-1.2},{"b":2,"t":180,"d":-1.1},
{"b":3,"t":0,"d":-8.9},{"b":3,"t":5,"d":-7},{"b":3,"t":10.3,"d":-5.3},{"b":3,"t":14,"d":-2.5},{"b":3,"t":16,"d":-0.5},{"b":3,"t":18.5,"d":0},{"b":3,"t":21,"d":-0.4},{"b":3,"t":23,"d":-2},{"b":3,"t":25.7,"d":-7.5},{"b":3,"t":25,"d":-14},{"b":3,"t":24,"d":-20},{"b":3,"t":172,"d":-20},{"b":3,"t":172.9,"d":-14.6},{"b":3,"t":175.4,"d":-9.6},{"b":3,"t":178,"d":-9},{"b":3,"t":180,"d":-8.9},
{"b":4,"t":27,"d":-20},{"b":4,"t":26,"d":-15},{"b":4,"t":22,"d":-6},{"b":4,"t":21.8,"d":-1.3},{"b":4,"t":25,"d":0},{"b":4,"t":28,"d":-0.3},{"b":4,"t":30.2,"d":-1.9},{"b":4,"t":32.8,"d":-6.6},{"b":4,"t":33.5,"d":-14},{"b":4,"t":33,"d":-20},
{"b":5,"t":30,"d":-20},{"b":5,"t":29.4,"d":-14.8},{"b":5,"t":29.3,"d":-5.1},{"b":5,"t":30.2,"d":-1.5},{"b":5,"t":33,"d":0},{"b":5,"t":36,"d":-1.9},{"b":5,"t":36.3,"d":-6},{"b":5,"t":38.1,"d":-14.2},{"b":5,"t":38.5,"d":-20},
{"b":6,"t":35.7,"d":-20},{"b":6,"t":36,"d":-10},{"b":6,"t":37.2,"d":-3},{"b":6,"t":38.5,"d":-0.5},{"b":6,"t":41.3,"d":0},{"b":6,"t":44,"d":-0.5},{"b":6,"t":45.3,"d":-3},{"b":6,"t":46.5,"d":-10},{"b":6,"t":46.8,"d":-20},
{"b":7,"t":43.4,"d":-20},{"b":7,"t":43.7,"d":-10},{"b":7,"t":44.7,"d":-3},{"b":7,"t":46,"d":-0.5},{"b":7,"t":48.8,"d":0},{"b":7,"t":51.5,"d":-0.5},{"b":7,"t":52.8,"d":-3},{"b":7,"t":53.8,"d":-10},{"b":7,"t":54.1,"d":-20},
{"b":8,"t":51.1,"d":-20},{"b":8,"t":51.3,"d":-10},{"b":8,"t":52.3,"d":-3},{"b":8,"t":53.5,"d":-0.5},{"b":8,"t":56.3,"d":0},{"b":8,"t":59,"d":-0.5},{"b":8,"t":60.2,"d":-3},{"b":8,"t":61.2,"d":-10},{"b":8,"t":61.4,"d":-20},
{"b":9,"t":58.7,"d":-20},{"b":9,"t":58.9,"d":-10},{"b":9,"t":59.8,"d":-3},{"b":9,"t":61,"d":-0.5},{"b":9,"t":63.8,"d":0},{"b":9,"t":66.5,"d":-0.5},{"b":9,"t":67.7,"d":-3},{"b":9,"t":68.6,"d":-10},{"b":9,"t":68.8,"d":-20},
{"b":10,"t":66.2,"d":-20},{"b":10,"t":66.4,"d":-10},{"b":10,"t":67.3,"d":-3},{"b":10,"t":68.5,"d":-0.5},{"b":10,"t":71.3,"d":0},{"b":10,"t":74,"d":-0.5},{"b":10,"t":75.2,"d":-3},{"b":10,"t":76.1,"d":-10},{"b":10,"t":76.3,"d":-20},
{"b":11,"t":73.8,"d":-20},{"b":11,"t":74,"d":-10},{"b":11,"t":74.8,"d":-3},{"b":11,"t":76,"d":-0.5},{"b":11,"t":78.8,"d":0},{"b":11,"t":81.5,"d":-0.5},{"b":11,"t":82.7,"d":-3},{"b":11,"t":83.5,"d":-10},{"b":11,"t":83.7,"d":-20},
{"b":12,"t":81.3,"d":-20},{"b":12,"t":81.5,"d":-10},{"b":12,"t":82.3,"d":-3},{"b":12,"t":83.5,"d":-0.5},{"b":12,"t":86.3,"d":0},{"b":12,"t":89,"d":-0.5},{"b":12,"t":90.2,"d":-3},{"b":12,"t":91,"d":-10},{"b":12,"t":91.2,"d":-20},
{"b":13,"t":88.8,"d":-20},{"b":13,"t":89,"d":-10},{"b":13,"t":89.8,"d":-3},{"b":13,"t":91,"d":-0.5},{"b":13,"t":93.8,"d":0},{"b":13,"t":96.5,"d":-0.5},{"b":13,"t":97.7,"d":-3},{"b":13,"t":98.5,"d":-10},{"b":13,"t":98.7,"d":-20},
{"b":14,"t":96.3,"d":-20},{"b":14,"t":96.5,"d":-10},{"b":14,"t":97.3,"d":-3},{"b":14,"t":98.5,"d":-0.5},{"b":14,"t":101.3,"d":0},{"b":14,"t":104,"d":-0.5},{"b":14,"t":105.2,"d":-3},{"b":14,"t":106,"d":-10},{"b":14,"t":106.2,"d":-20},
{"b":15,"t":103.7,"d":-20},{"b":15,"t":103.9,"d":-10},{"b":15,"t":104.8,"d":-3},{"b":15,"t":106,"d":-0.5},{"b":15,"t":108.8,"d":0},{"b":15,"t":111.5,"d":-0.5},{"b":15,"t":112.7,"d":-3},{"b":15,"t":113.6,"d":-10},{"b":15,"t":113.8,"d":-20},
{"b":16,"t":111.2,"d":-20},{"b":16,"t":111.4,"d":-10},{"b":16,"t":112.3,"d":-3},{"b":16,"t":113.5,"d":-0.5},{"b":16,"t":116.3,"d":0},{"b":16,"t":119,"d":-0.5},{"b":16,"t":120.2,"d":-3},{"b":16,"t":121.1,"d":-10},{"b":16,"t":121.3,"d":-20},
{"b":17,"t":118.6,"d":-20},{"b":17,"t":118.8,"d":-10},{"b":17,"t":119.8,"d":-3},{"b":17,"t":121,"d":-0.5},{"b":17,"t":123.8,"d":0},{"b":17,"t":126.5,"d":-0.5},{"b":17,"t":127.7,"d":-3},{"b":17,"t":128.7,"d":-10},{"b":17,"t":128.9,"d":-20},
{"b":18,"t":125.9,"d":-20},{"b":18,"t":126.2,"d":-10},{"b":18,"t":127.2,"d":-3},{"b":18,"t":128.5,"d":-0.5},{"b":18,"t":131.3,"d":0},{"b":18,"t":134,"d":-0.5},{"b":18,"t":135.3,"d":-3},{"b":18,"t":136.3,"d":-10},{"b":18,"t":136.6,"d":-20},
{"b":19,"t":133.2,"d":-20},{"b":19,"t":133.5,"d":-10},{"b":19,"t":134.7,"d":-3},{"b":19,"t":136,"d":-0.5},{"b":19,"t":138.8,"d":0},{"b":19,"t":141.5,"d":-0.5},{"b":19,"t":142.8,"d":-3},{"b":19,"t":144,"d":-10},{"b":19,"t":144.3,"d":-20},
{"b":20,"t":141.5,"d":-20},{"b":20,"t":141.9,"d":-14.2},{"b":20,"t":143.7,"d":-6},{"b":20,"t":144,"d":-1.9},{"b":20,"t":147,"d":0},{"b":20,"t":149.8,"d":-1.5},{"b":20,"t":150.7,"d":-5.1},{"b":20,"t":150.6,"d":-14.8},{"b":20,"t":150,"d":-20},
{"b":21,"t":147,"d":-20},{"b":21,"t":146.5,"d":-14},{"b":21,"t":147.2,"d":-6.6},{"b":21,"t":149.8,"d":-1.9},{"b":21,"t":152,"d":-0.3},{"b":21,"t":155,"d":0},{"b":21,"t":158.2,"d":-1.3},{"b":21,"t":158,"d":-6},{"b":21,"t":154,"d":-15},{"b":21,"t":153,"d":-20},
{"b":22,"t":0,"d":-8.9},{"b":22,"t":2,"d":-9},{"b":22,"t":4.6,"d":-9.6},{"b":22,"t":7.1,"d":-14.6},{"b":22,"t":8,"d":-20},{"b":22,"t":156,"d":-20},{"b":22,"t":155,"d":-14},{"b":22,"t":154.3,"d":-7.5},{"b":22,"t":157,"d":-2},{"b":22,"t":159,"d":-0.4},{"b":22,"t":161.5,"d":0},{"b":22,"t":164,"d":-0.5},{"b":22,"t":166,"d":-2.5},{"b":22,"t":169.7,"d":-5.3},{"b":22,"t":175,"d":-7},{"b":22,"t":180,"d":-8.9},
{"b":23,"t":0,"d":-1.1},{"b":23,"t":3,"d":-1.2},{"b":23,"t":7,"d":-2},{"b":23,"t":9.5,"d":-5},{"b":23,"t":10,"d":-12},{"b":23,"t":10,"d":-20},{"b":23,"t":163,"d":-20},{"b":23,"t":162,"d":-13.5},{"b":23,"t":158.6,"d":-6.1},{"b":23,"t":163.3,"d":-1.2},{"b":23,"t":166.7,"d":0},{"b":23,"t":172.4,"d":-0.6},{"b":23,"t":176.5,"d":-0.8},{"b":23,"t":180,"d":-1.1},
{"b":24,"t":0,"d":-0.1},{"b":24,"t":5.4,"d":0},{"b":24,"t":9.6,"d":-0.7},{"b":24,"t":10.5,"d":-5.1},{"b":24,"t":10.9,"d":-15.4},{"b":24,"t":11,"d":-20},{"b":24,"t":165,"d":-20},{"b":24,"t":165,"d":-15.3},{"b":24,"t":165.6,"d":-8.4},{"b":24,"t":167.3,"d":-1.5},{"b":24,"t":170.6,"d":-0.2},{"b":24,"t":176.5,"d":0},{"b":24,"t":180,"d":0}],
"F4":[
{"b":1,"t":3.4,"d":-20},{"b":1,"t":1,"d":-10},{"b":1,"t":0,"d":-1.5},{"b":1,"t":1.9,"d":0},{"b":1,"t":6.4,"d":-0.5},{"b":1,"t":9.4,"d":-4},{"b":1,"t":13.9,"d":-10},{"b":1,"t":13.9,"d":-20},
{"b":2,"t":7.1,"d":-20},{"b":2,"t":2.6,"d":-10},{"b":2,"t":0.5,"d":-4},{"b":2,"t":1.1,"d":-0.5},{"b":2,"t":5.6,"d":0},{"b":2,"t":10.1,"d":-0.5},{"b":2,"t":13.1,"d":-4},{"b":2,"t":17.6,"d":-10},{"b":2,"t":17.6,"d":-20},
{"b":3,"t":10.9,"d":-20},{"b":3,"t":6.4,"d":-10},{"b":3,"t":3.4,"d":-4},{"b":3,"t":4.9,"d":-0.5},{"b":3,"t":9.4,"d":0},{"b":3,"t":13.9,"d":-0.5},{"b":3,"t":16.9,"d":-4},{"b":3,"t":21.4,"d":-10},{"b":3,"t":21.4,"d":-20},
{"b":4,"t":14.5,"d":-20},{"b":4,"t":10.3,"d":-10},{"b":4,"t":7.4,"d":-4},{"b":4,"t":8.9,"d":-0.5},{"b":4,"t":13.1,"d":0},{"b":4,"t":17.3,"d":-0.5},{"b":4,"t":20.2,"d":-4},{"b":4,"t":24.4,"d":-10},{"b":4,"t":24.4,"d":-20},
{"b":5,"t":18.1,"d":-20},{"b":5,"t":14.5,"d":-10},{"b":5,"t":12.2,"d":-4},{"b":5,"t":13.3,"d":-0.5},{"b":5,"t":16.9,"d":0},{"b":5,"t":20.5,"d":-0.5},{"b":5,"t":22.8,"d":-4},{"b":5,"t":26.4,"d":-10},{"b":5,"t":26.4,"d":-20},
{"b":6,"t":21.6,"d":-20},{"b":6,"t":18.5,"d":-10},{"b":6,"t":16.4,"d":-4},{"b":6,"t":17.5,"d":-0.5},{"b":6,"t":20.6,"d":0},{"b":6,"t":23.7,"d":-0.5},{"b":6,"t":25.8,"d":-4},{"b":6,"t":28.9,"d":-10},{"b":6,"t":28.9,"d":-20},
{"b":7,"t":25.3,"d":-20},{"b":7,"t":22.5,"d":-10},{"b":7,"t":20.7,"d":-4},{"b":7,"t":21.6,"d":-0.5},{"b":7,"t":24.4,"d":0},{"b":7,"t":27.2,"d":-0.5},{"b":7,"t":29,"d":-4},{"b":7,"t":31.8,"d":-10},{"b":7,"t":31.8,"d":-20},
{"b":8,"t":28.9,"d":-20},{"b":8,"t":26.4,"d":-10},{"b":8,"t":24.7,"d":-4},{"b":8,"t":25.6,"d":-0.5},{"b":8,"t":28.1,"d":0},{"b":8,"t":30.6,"d":-0.5},{"b":8,"t":32.3,"d":-4},{"b":8,"t":34.9,"d":-10},{"b":8,"t":34.9,"d":-20},
{"b":9,"t":27.4,"d":-20},{"b":9,"t":26.8,"d":-10},{"b":9,"t":27.7,"d":-4},{"b":9,"t":30.4,"d":-0.3},{"b":9,"t":33.4,"d":-0.3},{"b":9,"t":36.1,"d":-4},{"b":9,"t":37,"d":-10},{"b":9,"t":36.4,"d":-20},
{"b":10,"t":31.5,"d":-20},{"b":10,"t":31,"d":-10},{"b":10,"t":31.8,"d":-4},{"b":10,"t":34.1,"d":-0.3},{"b":10,"t":37.1,"d":-0.3},{"b":10,"t":39.4,"d":-4},{"b":10,"t":40.2,"d":-10},{"b":10,"t":39.7,"d":-20},
{"b":11,"t":35.6,"d":-20},{"b":11,"t":35.1,"d":-10},{"b":11,"t":35.9,"d":-4},{"b":11,"t":37.9,"d":-0.3},{"b":11,"t":40.9,"d":-0.3},{"b":11,"t":42.9,"d":-4},{"b":11,"t":43.7,"d":-10},{"b":11,"t":43.2,"d":-20},
{"b":12,"t":39.6,"d":-20},{"b":12,"t":39.2,"d":-10},{"b":12,"t":39.9,"d":-4},{"b":12,"t":41.6,"d":-0.3},{"b":12,"t":44.6,"d":-0.3},{"b":12,"t":46.3,"d":-4},{"b":12,"t":47,"d":-10},{"b":12,"t":46.6,"d":-20},
{"b":13,"t":43.6,"d":-20},{"b":13,"t":43.2,"d":-10},{"b":13,"t":43.9,"d":-4},{"b":13,"t":45.4,"d":-0.3},{"b":13,"t":48.4,"d":-0.3},{"b":13,"t":49.9,"d":-4},{"b":13,"t":50.6,"d":-10},{"b":13,"t":50.2,"d":-20},
{"b":14,"t":47.5,"d":-20},{"b":14,"t":47.1,"d":-10},{"b":14,"t":47.8,"d":-4},{"b":14,"t":49.1,"d":-0.3},{"b":14,"t":52.1,"d":-0.3},{"b":14,"t":53.4,"d":-4},{"b":14,"t":54.1,"d":-10},{"b":14,"t":53.7,"d":-20},
{"b":15,"t":51.4,"d":-20},{"b":15,"t":51.1,"d":-10},{"b":15,"t":51.7,"d":-4},{"b":15,"t":52.9,"d":-0.3},{"b":15,"t":55.9,"d":-0.3},{"b":15,"t":57.1,"d":-4},{"b":15,"t":57.7,"d":-10},{"b":15,"t":57.4,"d":-20},
{"b":16,"t":55.3,"d":-20},{"b":16,"t":54.9,"d":-10},{"b":16,"t":55.5,"d":-4},{"b":16,"t":56.6,"d":-0.3},{"b":16,"t":59.6,"d":-0.3},{"b":16,"t":60.7,"d":-4},{"b":16,"t":61.3,"d":-10},{"b":16,"t":60.9,"d":-20},
{"b":17,"t":59.2,"d":-20},{"b":17,"t":58.8,"d":-10},{"b":17,"t":59.4,"d":-4},{"b":17,"t":60.4,"d":-0.3},{"b":17,"t":63.4,"d":-0.3},{"b":17,"t":64.4,"d":-4},{"b":17,"t":65,"d":-10},{"b":17,"t":64.6,"d":-20},
{"b":18,"t":63,"d":-20},{"b":18,"t":62.6,"d":-10},{"b":18,"t":63.2,"d":-4},{"b":18,"t":64.1,"d":-0.3},{"b":18,"t":67.1,"d":-0.3},{"b":18,"t":68,"d":-4},{"b":18,"t":68.6,"d":-10},{"b":18,"t":68.2,"d":-20},
{"b":19,"t":66.8,"d":-20},{"b":19,"t":66.5,"d":-10},{"b":19,"t":67,"d":-4},{"b":19,"t":67.9,"d":-0.3},{"b":19,"t":70.9,"d":-0.3},{"b":19,"t":71.8,"d":-4},{"b":19,"t":72.3,"d":-10},{"b":19,"t":72,"d":-20},
{"b":20,"t":70.6,"d":-20},{"b":20,"t":70.3,"d":-10},{"b":20,"t":70.8,"d":-4},{"b":20,"t":71.6,"d":-0.3},{"b":20,"t":74.6,"d":-0.3},{"b":20,"t":75.4,"d":-4},{"b":20,"t":75.9,"d":-10},{"b":20,"t":75.6,"d":-20},
{"b":21,"t":74.4,"d":-20},{"b":21,"t":74.1,"d":-10},{"b":21,"t":74.6,"d":-4},{"b":21,"t":75.4,"d":-0.3},{"b":21,"t":78.4,"d":-0.3},{"b":21,"t":79.2,"d":-4},{"b":21,"t":79.7,"d":-10},{"b":21,"t":79.4,"d":-20},
{"b":22,"t":78.2,"d":-20},{"b":22,"t":77.9,"d":-10},{"b":22,"t":78.4,"d":-4},{"b":22,"t":79.1,"d":-0.3},{"b":22,"t":82.1,"d":-0.3},{"b":22,"t":82.8,"d":-4},{"b":22,"t":83.3,"d":-10},{"b":22,"t":83,"d":-20},
{"b":23,"t":82,"d":-20},{"b":23,"t":81.7,"d":-10},{"b":23,"t":82.2,"d":-4},{"b":23,"t":82.9,"d":-0.3},{"b":23,"t":85.9,"d":-0.3},{"b":23,"t":86.6,"d":-4},{"b":23,"t":87.1,"d":-10},{"b":23,"t":86.8,"d":-20},
{"b":24,"t":85.7,"d":-20},{"b":24,"t":85.4,"d":-10},{"b":24,"t":85.9,"d":-4},{"b":24,"t":86.6,"d":-0.3},{"b":24,"t":89.6,"d":-0.3},{"b":24,"t":90.3,"d":-4},{"b":24,"t":90.8,"d":-10},{"b":24,"t":90.5,"d":-20},
{"b":25,"t":89.5,"d":-20},{"b":25,"t":89.2,"d":-10},{"b":25,"t":89.7,"d":-4},{"b":25,"t":90.4,"d":-0.3},{"b":25,"t":93.4,"d":-0.3},{"b":25,"t":94.1,"d":-4},{"b":25,"t":94.6,"d":-10},{"b":25,"t":94.3,"d":-20},
{"b":26,"t":93.2,"d":-20},{"b":26,"t":92.9,"d":-10},{"b":26,"t":93.4,"d":-4},{"b":26,"t":94.1,"d":-0.3},{"b":26,"t":97.1,"d":-0.3},{"b":26,"t":97.8,"d":-4},{"b":26,"t":98.3,"d":-10},{"b":26,"t":98,"d":-20},
{"b":27,"t":97,"d":-20},{"b":27,"t":96.7,"d":-10},{"b":27,"t":97.2,"d":-4},{"b":27,"t":97.9,"d":-0.3},{"b":27,"t":100.9,"d":-0.3},{"b":27,"t":101.6,"d":-4},{"b":27,"t":102.1,"d":-10},{"b":27,"t":101.8,"d":-20},
{"b":28,"t":100.6,"d":-20},{"b":28,"t":100.3,"d":-10},{"b":28,"t":100.8,"d":-4},{"b":28,"t":101.6,"d":-0.3},{"b":28,"t":104.6,"d":-0.3},{"b":28,"t":105.4,"d":-4},{"b":28,"t":105.9,"d":-10},{"b":28,"t":105.6,"d":-20},
{"b":29,"t":104.4,"d":-20},{"b":29,"t":104.1,"d":-10},{"b":29,"t":104.6,"d":-4},{"b":29,"t":105.4,"d":-0.3},{"b":29,"t":108.4,"d":-0.3},{"b":29,"t":109.2,"d":-4},{"b":29,"t":109.7,"d":-10},{"b":29,"t":109.4,"d":-20},
{"b":30,"t":108,"d":-20},{"b":30,"t":107.7,"d":-10},{"b":30,"t":108.2,"d":-4},{"b":30,"t":109.1,"d":-0.3},{"b":30,"t":112.1,"d":-0.3},{"b":30,"t":113,"d":-4},{"b":30,"t":113.5,"d":-10},{"b":30,"t":113.2,"d":-20},
{"b":31,"t":111.8,"d":-20},{"b":31,"t":111.4,"d":-10},{"b":31,"t":112,"d":-4},{"b":31,"t":112.9,"d":-0.3},{"b":31,"t":115.9,"d":-0.3},{"b":31,"t":116.8,"d":-4},{"b":31,"t":117.4,"d":-10},{"b":31,"t":117,"d":-20},
{"b":32,"t":115.4,"d":-20},{"b":32,"t":115,"d":-10},{"b":32,"t":115.6,"d":-4},{"b":32,"t":116.6,"d":-0.3},{"b":32,"t":119.6,"d":-0.3},{"b":32,"t":120.6,"d":-4},{"b":32,"t":121.2,"d":-10},{"b":32,"t":120.8,"d":-20},
{"b":33,"t":119.1,"d":-20},{"b":33,"t":118.7,"d":-10},{"b":33,"t":119.3,"d":-4},{"b":33,"t":120.4,"d":-0.3},{"b":33,"t":123.4,"d":-0.3},{"b":33,"t":124.5,"d":-4},{"b":33,"t":125.1,"d":-10},{"b":33,"t":124.7,"d":-20},
{"b":34,"t":122.6,"d":-20},{"b":34,"t":122.3,"d":-10},{"b":34,"t":122.9,"d":-4},{"b":34,"t":124.1,"d":-0.3},{"b":34,"t":127.1,"d":-0.3},{"b":34,"t":128.3,"d":-4},{"b":34,"t":128.9,"d":-10},{"b":34,"t":128.6,"d":-20},
{"b":35,"t":126.3,"d":-20},{"b":35,"t":125.9,"d":-10},{"b":35,"t":126.6,"d":-4},{"b":35,"t":127.9,"d":-0.3},{"b":35,"t":130.9,"d":-0.3},{"b":35,"t":132.2,"d":-4},{"b":35,"t":132.9,"d":-10},{"b":35,"t":132.5,"d":-20},
{"b":36,"t":129.8,"d":-20},{"b":36,"t":129.4,"d":-10},{"b":36,"t":130.1,"d":-4},{"b":36,"t":131.6,"d":-0.3},{"b":36,"t":134.6,"d":-0.3},{"b":36,"t":136.1,"d":-4},{"b":36,"t":136.8,"d":-10},{"b":36,"t":136.4,"d":-20},
{"b":37,"t":133.4,"d":-20},{"b":37,"t":133,"d":-10},{"b":37,"t":133.7,"d":-4},{"b":37,"t":135.4,"d":-0.3},{"b":37,"t":138.4,"d":-0.3},{"b":37,"t":140.1,"d":-4},{"b":37,"t":140.8,"d":-10},{"b":37,"t":140.4,"d":-20},
{"b":38,"t":136.8,"d":-20},{"b":38,"t":136.3,"d":-10},{"b":38,"t":137.1,"d":-4},{"b":38,"t":139.1,"d":-0.3},{"b":38,"t":142.1,"d":-0.3},{"b":38,"t":144.1,"d":-4},{"b":38,"t":144.9,"d":-10},{"b":38,"t":144.4,"d":-20},
{"b":39,"t":140.3,"d":-20},{"b":39,"t":139.8,"d":-10},{"b":39,"t":140.6,"d":-4},{"b":39,"t":142.9,"d":-0.3},{"b":39,"t":145.9,"d":-0.3},{"b":39,"t":148.2,"d":-4},{"b":39,"t":149,"d":-10},{"b":39,"t":148.5,"d":-20},
{"b":40,"t":143.6,"d":-20},{"b":40,"t":143,"d":-10},{"b":40,"t":143.9,"d":-4},{"b":40,"t":146.6,"d":-0.3},{"b":40,"t":149.6,"d":-0.3},{"b":40,"t":152.3,"d":-4},{"b":40,"t":153.2,"d":-10},{"b":40,"t":152.6,"d":-20},
{"b":41,"t":145.1,"d":-20},{"b":41,"t":145.1,"d":-10},{"b":41,"t":147.7,"d":-4},{"b":41,"t":149.4,"d":-0.5},{"b":41,"t":151.9,"d":0},{"b":41,"t":154.4,"d":-0.5},{"b":41,"t":155.3,"d":-4},{"b":41,"t":153.6,"d":-10},{"b":41,"t":151.1,"d":-20},
{"b":42,"t":148.2,"d":-20},{"b":42,"t":148.2,"d":-10},{"b":42,"t":151,"d":-4},{"b":42,"t":152.8,"d":-0.5},{"b":42,"t":155.6,"d":0},{"b":42,"t":158.4,"d":-0.5},{"b":42,"t":159.3,"d":-4},{"b":42,"t":157.5,"d":-10},{"b":42,"t":154.7,"d":-20},
{"b":43,"t":151.1,"d":-20},{"b":43,"t":151.1,"d":-10},{"b":43,"t":154.2,"d":-4},{"b":43,"t":156.3,"d":-0.5},{"b":43,"t":159.4,"d":0},{"b":43,"t":162.5,"d":-0.5},{"b":43,"t":163.6,"d":-4},{"b":43,"t":161.5,"d":-10},{"b":43,"t":158.4,"d":-20},
{"b":44,"t":153.6,"d":-20},{"b":44,"t":153.6,"d":-10},{"b":44,"t":157.2,"d":-4},{"b":44,"t":159.5,"d":-0.5},{"b":44,"t":163.1,"d":0},{"b":44,"t":166.7,"d":-0.5},{"b":44,"t":167.8,"d":-4},{"b":44,"t":165.5,"d":-10},{"b":44,"t":161.9,"d":-20},
{"b":45,"t":155.6,"d":-20},{"b":45,"t":155.6,"d":-10},{"b":45,"t":159.8,"d":-4},{"b":45,"t":162.7,"d":-0.5},{"b":45,"t":166.9,"d":0},{"b":45,"t":171.1,"d":-0.5},{"b":45,"t":172.6,"d":-4},{"b":45,"t":169.7,"d":-10},{"b":45,"t":165.5,"d":-20},
{"b":46,"t":158.6,"d":-20},{"b":46,"t":158.6,"d":-10},{"b":46,"t":163.1,"d":-4},{"b":46,"t":166.1,"d":-0.5},{"b":46,"t":170.6,"d":0},{"b":46,"t":175.1,"d":-0.5},{"b":46,"t":176.6,"d":-4},{"b":46,"t":173.6,"d":-10},{"b":46,"t":169.1,"d":-20},
{"b":47,"t":162.4,"d":-20},{"b":47,"t":162.4,"d":-10},{"b":47,"t":166.9,"d":-4},{"b":47,"t":169.9,"d":-0.5},{"b":47,"t":174.4,"d":0},{"b":47,"t":178.9,"d":-0.5},{"b":47,"t":179.5,"d":-4},{"b":47,"t":177.4,"d":-10},{"b":47,"t":172.9,"d":-20},
{"b":48,"t":166.1,"d":-20},{"b":48,"t":166.1,"d":-10},{"b":48,"t":170.6,"d":-4},{"b":48,"t":173.6,"d":-0.5},{"b":48,"t":178.1,"d":0},{"b":48,"t":180,"d":-1.5},{"b":48,"t":179,"d":-10},{"b":48,"t":176.6,"d":-20}],
"W4":[
{"b":1,"t":3.4,"d":-20},{"b":1,"t":1,"d":-10},{"b":1,"t":0,"d":-1.5},{"b":1,"t":1.9,"d":0},{"b":1,"t":6.4,"d":-0.5},{"b":1,"t":9.4,"d":-4},{"b":1,"t":13.9,"d":-10},{"b":1,"t":13.9,"d":-20},
{"b":2,"t":7.1,"d":-20},{"b":2,"t":2.6,"d":-10},{"b":2,"t":0.5,"d":-4},{"b":2,"t":1.1,"d":-0.5},{"b":2,"t":5.6,"d":0},{"b":2,"t":10.1,"d":-0.5},{"b":2,"t":13.1,"d":-4},{"b":2,"t":17.6,"d":-10},{"b":2,"t":17.6,"d":-20},
{"b":3,"t":10.9,"d":-20},{"b":3,"t":6.4,"d":-10},{"b":3,"t":3.4,"d":-4},{"b":3,"t":4.9,"d":-0.5},{"b":3,"t":9.4,"d":0},{"b":3,"t":13.9,"d":-0.5},{"b":3,"t":16.9,"d":-4},{"b":3,"t":21.4,"d":-10},{"b":3,"t":21.4,"d":-20},
{"b":4,"t":14.5,"d":-20},{"b":4,"t":10.3,"d":-10},{"b":4,"t":7.4,"d":-4},{"b":4,"t":8.9,"d":-0.5},{"b":4,"t":13.1,"d":0},{"b":4,"t":17.3,"d":-0.5},{"b":4,"t":20.2,"d":-4},{"b":4,"t":24.4,"d":-10},{"b":4,"t":24.4,"d":-20},
{"b":5,"t":18.1,"d":-20},{"b":5,"t":14.5,"d":-10},{"b":5,"t":12.2,"d":-4},{"b":5,"t":13.3,"d":-0.5},{"b":5,"t":16.9,"d":0},{"b":5,"t":20.5,"d":-0.5},{"b":5,"t":22.8,"d":-4},{"b":5,"t":26.4,"d":-10},{"b":5,"t":26.4,"d":-20},
{"b":6,"t":21.6,"d":-20},{"b":6,"t":18.5,"d":-10},{"b":6,"t":16.4,"d":-4},{"b":6,"t":17.5,"d":-0.5},{"b":6,"t":20.6,"d":0},{"b":6,"t":23.7,"d":-0.5},{"b":6,"t":25.8,"d":-4},{"b":6,"t":28.9,"d":-10},{"b":6,"t":28.9,"d":-20},
{"b":7,"t":25.3,"d":-20},{"b":7,"t":22.5,"d":-10},{"b":7,"t":20.7,"d":-4},{"b":7,"t":21.6,"d":-0.5},{"b":7,"t":24.4,"d":0},{"b":7,"t":27.2,"d":-0.5},{"b":7,"t":29,"d":-4},{"b":7,"t":31.8,"d":-10},{"b":7,"t":31.8,"d":-20},
{"b":8,"t":28.9,"d":-20},{"b":8,"t":26.4,"d":-10},{"b":8,"t":24.7,"d":-4},{"b":8,"t":25.6,"d":-0.5},{"b":8,"t":28.1,"d":0},{"b":8,"t":30.6,"d":-0.5},{"b":8,"t":32.3,"d":-4},{"b":8,"t":34.9,"d":-10},{"b":8,"t":34.9,"d":-20},
{"b":9,"t":27.4,"d":-20},{"b":9,"t":26.2,"d":-10},{"b":9,"t":27.2,"d":-4},{"b":9,"t":30.5,"d":-1},{"b":9,"t":31.9,"d":0},{"b":9,"t":33.3,"d":-1},{"b":9,"t":36.6,"d":-4},{"b":9,"t":37.6,"d":-10},{"b":9,"t":36.4,"d":-20},
{"b":10,"t":31.5,"d":-20},{"b":10,"t":30.4,"d":-10},{"b":10,"t":31.3,"d":-4},{"b":10,"t":34.2,"d":-1},{"b":10,"t":35.6,"d":0},{"b":10,"t":37,"d":-1},{"b":10,"t":39.9,"d":-4},{"b":10,"t":40.8,"d":-10},{"b":10,"t":39.7,"d":-20},
{"b":11,"t":35.6,"d":-20},{"b":11,"t":34.7,"d":-10},{"b":11,"t":35.4,"d":-4},{"b":11,"t":38,"d":-1},{"b":11,"t":39.4,"d":0},{"b":11,"t":40.8,"d":-1},{"b":11,"t":43.4,"d":-4},{"b":11,"t":44.1,"d":-10},{"b":11,"t":43.2,"d":-20},
{"b":12,"t":39.6,"d":-20},{"b":12,"t":38.7,"d":-10},{"b":12,"t":39.4,"d":-4},{"b":12,"t":41.7,"d":-1},{"b":12,"t":43.1,"d":0},{"b":12,"t":44.5,"d":-1},{"b":12,"t":46.8,"d":-4},{"b":12,"t":47.5,"d":-10},{"b":12,"t":46.6,"d":-20},
{"b":13,"t":43.6,"d":-20},{"b":13,"t":42.8,"d":-10},{"b":13,"t":43.5,"d":-4},{"b":13,"t":45.5,"d":-1},{"b":13,"t":46.9,"d":0},{"b":13,"t":48.3,"d":-1},{"b":13,"t":50.3,"d":-4},{"b":13,"t":51,"d":-10},{"b":13,"t":50.2,"d":-20},
{"b":14,"t":47.5,"d":-20},{"b":14,"t":46.7,"d":-10},{"b":14,"t":47.4,"d":-4},{"b":14,"t":49.2,"d":-1},{"b":14,"t":50.6,"d":0},{"b":14,"t":52,"d":-1},{"b":14,"t":53.8,"d":-4},{"b":14,"t":54.5,"d":-10},{"b":14,"t":53.7,"d":-20},
{"b":15,"t":51.4,"d":-20},{"b":15,"t":50.7,"d":-10},{"b":15,"t":51.3,"d":-4},{"b":15,"t":53,"d":-1},{"b":15,"t":54.4,"d":0},{"b":15,"t":55.8,"d":-1},{"b":15,"t":57.5,"d":-4},{"b":15,"t":58.1,"d":-10},{"b":15,"t":57.4,"d":-20},
{"b":16,"t":55.3,"d":-20},{"b":16,"t":54.6,"d":-10},{"b":16,"t":55.1,"d":-4},{"b":16,"t":56.7,"d":-1},{"b":16,"t":58.1,"d":0},{"b":16,"t":59.5,"d":-1},{"b":16,"t":61.1,"d":-4},{"b":16,"t":61.6,"d":-10},{"b":16,"t":60.9,"d":-20},
{"b":17,"t":59.2,"d":-20},{"b":17,"t":58.5,"d":-10},{"b":17,"t":59.1,"d":-4},{"b":17,"t":60.5,"d":-1},{"b":17,"t":61.9,"d":0},{"b":17,"t":63.3,"d":-1},{"b":17,"t":64.7,"d":-4},{"b":17,"t":65.3,"d":-10},{"b":17,"t":64.6,"d":-20},
{"b":18,"t":63,"d":-20},{"b":18,"t":62.3,"d":-10},{"b":18,"t":62.8,"d":-4},{"b":18,"t":64.2,"d":-1},{"b":18,"t":65.6,"d":0},{"b":18,"t":67,"d":-1},{"b":18,"t":68.4,"d":-4},{"b":18,"t":68.9,"d":-10},{"b":18,"t":68.2,"d":-20},
{"b":19,"t":66.8,"d":-20},{"b":19,"t":66.2,"d":-10},{"b":19,"t":66.7,"d":-4},{"b":19,"t":68,"d":-1},{"b":19,"t":69.4,"d":0},{"b":19,"t":70.8,"d":-1},{"b":19,"t":72.1,"d":-4},{"b":19,"t":72.6,"d":-10},{"b":19,"t":72,"d":-20},
{"b":20,"t":70.6,"d":-20},{"b":20,"t":69.9,"d":-10},{"b":20,"t":70.5,"d":-4},{"b":20,"t":71.7,"d":-1},{"b":20,"t":73.1,"d":0},{"b":20,"t":74.5,"d":-1},{"b":20,"t":75.7,"d":-4},{"b":20,"t":76.3,"d":-10},{"b":20,"t":75.6,"d":-20},
{"b":21,"t":74.4,"d":-20},{"b":21,"t":73.8,"d":-10},{"b":21,"t":74.3,"d":-4},{"b":21,"t":75.5,"d":-1},{"b":21,"t":76.9,"d":0},{"b":21,"t":78.3,"d":-1},{"b":21,"t":79.5,"d":-4},{"b":21,"t":80,"d":-10},{"b":21,"t":79.4,"d":-20},
{"b":22,"t":78.2,"d":-20},{"b":22,"t":77.6,"d":-10},{"b":22,"t":78.1,"d":-4},{"b":22,"t":79.2,"d":-1},{"b":22,"t":80.6,"d":0},{"b":22,"t":82,"d":-1},{"b":22,"t":83.1,"d":-4},{"b":22,"t":83.6,"d":-10},{"b":22,"t":83,"d":-20},
{"b":23,"t":82,"d":-20},{"b":23,"t":81.4,"d":-10},{"b":23,"t":81.9,"d":-4},{"b":23,"t":83,"d":-1},{"b":23,"t":84.4,"d":0},{"b":23,"t":85.8,"d":-1},{"b":23,"t":86.9,"d":-4},{"b":23,"t":87.4,"d":-10},{"b":23,"t":86.8,"d":-20},
{"b":24,"t":85.7,"d":-20},{"b":24,"t":85.1,"d":-10},{"b":24,"t":85.6,"d":-4},{"b":24,"t":86.7,"d":-1},{"b":24,"t":88.1,"d":0},{"b":24,"t":89.5,"d":-1},{"b":24,"t":90.6,"d":-4},{"b":24,"t":91.1,"d":-10},{"b":24,"t":90.5,"d":-20},
{"b":25,"t":89.5,"d":-20},{"b":25,"t":88.9,"d":-10},{"b":25,"t":89.4,"d":-4},{"b":25,"t":90.5,"d":-1},{"b":25,"t":91.9,"d":0},{"b":25,"t":93.3,"d":-1},{"b":25,"t":94.4,"d":-4},{"b":25,"t":94.9,"d":-10},{"b":25,"t":94.3,"d":-20},
{"b":26,"t":93.2,"d":-20},{"b":26,"t":92.6,"d":-10},{"b":26,"t":93.1,"d":-4},{"b":26,"t":94.2,"d":-1},{"b":26,"t":95.6,"d":0},{"b":26,"t":97,"d":-1},{"b":26,"t":98.1,"d":-4},{"b":26,"t":98.6,"d":-10},{"b":26,"t":98,"d":-20},
{"b":27,"t":97,"d":-20},{"b":27,"t":96.4,"d":-10},{"b":27,"t":96.9,"d":-4},{"b":27,"t":98,"d":-1},{"b":27,"t":99.4,"d":0},{"b":27,"t":100.8,"d":-1},{"b":27,"t":101.9,"d":-4},{"b":27,"t":102.4,"d":-10},{"b":27,"t":101.8,"d":-20},
{"b":28,"t":100.6,"d":-20},{"b":28,"t":100,"d":-10},{"b":28,"t":100.5,"d":-4},{"b":28,"t":101.7,"d":-1},{"b":28,"t":103.1,"d":0},{"b":28,"t":104.5,"d":-1},{"b":28,"t":105.7,"d":-4},{"b":28,"t":106.2,"d":-10},{"b":28,"t":105.6,"d":-20},
{"b":29,"t":104.4,"d":-20},{"b":29,"t":103.7,"d":-10},{"b":29,"t":104.3,"d":-4},{"b":29,"t":105.5,"d":-1},{"b":29,"t":106.9,"d":0},{"b":29,"t":108.3,"d":-1},{"b":29,"t":109.5,"d":-4},{"b":29,"t":110.1,"d":-10},{"b":29,"t":109.4,"d":-20},
{"b":30,"t":108,"d":-20},{"b":30,"t":107.4,"d":-10},{"b":30,"t":107.9,"d":-4},{"b":30,"t":109.2,"d":-1},{"b":30,"t":110.6,"d":0},{"b":30,"t":112,"d":-1},{"b":30,"t":113.3,"d":-4},{"b":30,"t":113.8,"d":-10},{"b":30,"t":113.2,"d":-20},
{"b":31,"t":111.8,"d":-20},{"b":31,"t":111.1,"d":-10},{"b":31,"t":111.6,"d":-4},{"b":31,"t":113,"d":-1},{"b":31,"t":114.4,"d":0},{"b":31,"t":115.8,"d":-1},{"b":31,"t":117.2,"d":-4},{"b":31,"t":117.7,"d":-10},{"b":31,"t":117,"d":-20},
{"b":32,"t":115.4,"d":-20},{"b":32,"t":114.7,"d":-10},{"b":32,"t":115.3,"d":-4},{"b":32,"t":116.7,"d":-1},{"b":32,"t":118.1,"d":0},{"b":32,"t":119.5,"d":-1},{"b":32,"t":120.9,"d":-4},{"b":32,"t":121.5,"d":-10},{"b":32,"t":120.8,"d":-20},
{"b":33,"t":119.1,"d":-20},{"b":33,"t":118.4,"d":-10},{"b":33,"t":118.9,"d":-4},{"b":33,"t":120.5,"d":-1},{"b":33,"t":121.9,"d":0},{"b":33,"t":123.3,"d":-1},{"b":33,"t":124.9,"d":-4},{"b":33,"t":125.4,"d":-10},{"b":33,"t":124.7,"d":-20},
{"b":34,"t":122.6,"d":-20},{"b":34,"t":121.9,"d":-10},{"b":34,"t":122.5,"d":-4},{"b":34,"t":124.2,"d":-1},{"b":34,"t":125.6,"d":0},{"b":34,"t":127,"d":-1},{"b":34,"t":128.7,"d":-4},{"b":34,"t":129.3,"d":-10},{"b":34,"t":128.6,"d":-20},
{"b":35,"t":126.3,"d":-20},{"b":35,"t":125.5,"d":-10},{"b":35,"t":126.2,"d":-4},{"b":35,"t":128,"d":-1},{"b":35,"t":129.4,"d":0},{"b":35,"t":130.8,"d":-1},{"b":35,"t":132.6,"d":-4},{"b":35,"t":133.3,"d":-10},{"b":35,"t":132.5,"d":-20},
{"b":36,"t":129.8,"d":-20},{"b":36,"t":129,"d":-10},{"b":36,"t":129.7,"d":-4},{"b":36,"t":131.7,"d":-1},{"b":36,"t":133.1,"d":0},{"b":36,"t":134.5,"d":-1},{"b":36,"t":136.5,"d":-4},{"b":36,"t":137.2,"d":-10},{"b":36,"t":136.4,"d":-20},
{"b":37,"t":133.4,"d":-20},{"b":37,"t":132.5,"d":-10},{"b":37,"t":133.2,"d":-4},{"b":37,"t":135.5,"d":-1},{"b":37,"t":136.9,"d":0},{"b":37,"t":138.3,"d":-1},{"b":37,"t":140.6,"d":-4},{"b":37,"t":141.3,"d":-10},{"b":37,"t":140.4,"d":-20},
{"b":38,"t":136.8,"d":-20},{"b":38,"t":135.9,"d":-10},{"b":38,"t":136.6,"d":-4},{"b":38,"t":139.2,"d":-1},{"b":38,"t":140.6,"d":0},{"b":38,"t":142,"d":-1},{"b":38,"t":144.6,"d":-4},{"b":38,"t":145.3,"d":-10},{"b":38,"t":144.4,"d":-20},
{"b":39,"t":140.3,"d":-20},{"b":39,"t":139.2,"d":-10},{"b":39,"t":140.1,"d":-4},{"b":39,"t":143,"d":-1},{"b":39,"t":144.4,"d":0},{"b":39,"t":145.8,"d":-1},{"b":39,"t":148.7,"d":-4},{"b":39,"t":149.6,"d":-10},{"b":39,"t":148.5,"d":-20},
{"b":40,"t":143.6,"d":-20},{"b":40,"t":142.4,"d":-10},{"b":40,"t":143.4,"d":-4},{"b":40,"t":146.7,"d":-1},{"b":40,"t":148.1,"d":0},{"b":40,"t":149.5,"d":-1},{"b":40,"t":152.8,"d":-4},{"b":40,"t":153.8,"d":-10},{"b":40,"t":152.6,"d":-20},
{"b":41,"t":145.1,"d":-20},{"b":41,"t":145.1,"d":-10},{"b":41,"t":147.7,"d":-4},{"b":41,"t":149.4,"d":-0.5},{"b":41,"t":151.9,"d":0},{"b":41,"t":154.4,"d":-0.5},{"b":41,"t":155.3,"d":-4},{"b":41,"t":153.6,"d":-10},{"b":41,"t":151.1,"d":-20},
{"b":42,"t":148.2,"d":-20},{"b":42,"t":148.2,"d":-10},{"b":42,"t":151,"d":-4},{"b":42,"t":152.8,"d":-0.5},{"b":42,"t":155.6,"d":0},{"b":42,"t":158.4,"d":-0.5},{"b":42,"t":159.3,"d":-4},{"b":42,"t":157.5,"d":-10},{"b":42,"t":154.7,"d":-20},
{"b":43,"t":151.1,"d":-20},{"b":43,"t":151.1,"d":-10},{"b":43,"t":154.2,"d":-4},{"b":43,"t":156.3,"d":-0.5},{"b":43,"t":159.4,"d":0},{"b":43,"t":162.5,"d":-0.5},{"b":43,"t":163.6,"d":-4},{"b":43,"t":161.5,"d":-10},{"b":43,"t":158.4,"d":-20},
{"b":44,"t":153.6,"d":-20},{"b":44,"t":153.6,"d":-10},{"b":44,"t":157.2,"d":-4},{"b":44,"t":159.5,"d":-0.5},{"b":44,"t":163.1,"d":0},{"b":44,"t":166.7,"d":-0.5},{"b":44,"t":167.8,"d":-4},{"b":44,"t":165.5,"d":-10},{"b":44,"t":161.9,"d":-20},
{"b":45,"t":155.6,"d":-20},{"b":45,"t":155.6,"d":-10},{"b":45,"t":159.8,"d":-4},{"b":45,"t":162.7,"d":-0.5},{"b":45,"t":166.9,"d":0},{"b":45,"t":171.1,"d":-0.5},{"b":45,"t":172.6,"d":-4},{"b":45,"t":169.7,"d":-10},{"b":45,"t":165.5,"d":-20},
{"b":46,"t":158.6,"d":-20},{"b":46,"t":158.6,"d":-10},{"b":46,"t":163.1,"d":-4},{"b":46,"t":166.1,"d":-0.5},{"b":46,"t":170.6,"d":0},{"b":46,"t":175.1,"d":-0.5},{"b":46,"t":176.6,"d":-4},{"b":46,"t":173.6,"d":-10},{"b":46,"t":169.1,"d":-20},
{"b":47,"t":162.4,"d":-20},{"b":47,"t":162.4,"d":-10},{"b":47,"t":166.9,"d":-4},{"b":47,"t":169.9,"d":-0.5},{"b":47,"t":174.4,"d":0},{"b":47,"t":178.9,"d":-0.5},{"b":47,"t":179.5,"d":-4},{"b":47,"t":177.4,"d":-10},{"b":47,"t":172.9,"d":-20},
{"b":48,"t":166.1,"d":-20},{"b":48,"t":166.1,"d":-10},{"b":48,"t":170.6,"d":-4},{"b":48,"t":173.6,"d":-0.5},{"b":48,"t":178.1,"d":0},{"b":48,"t":180,"d":-1.5},{"b":48,"t":179,"d":-10},{"b":48,"t":176.6,"d":-20}]
},
"concat":[
{"width":396,"height":198,"layer":[
{"data":{"name":"grid"},"transform":[{"filter":"datum.g!='rim'&&datum.g!='base'"},{"calculate":"datum.r*cos(datum.t*PI/180)","as":"x"},{"calculate":"datum.r*sin(datum.t*PI/180)","as":"y"},{"window":[{"op":"row_number","as":"i"}]}],"mark":{"type":"line","interpolate":"catmull-rom","stroke":"#8a8a8a","strokeWidth":0.8,"strokeDash":[1,2]},"encoding":{"x":{"field":"x","type":"quantitative","scale":{"domain":[-20,20],"nice":false,"zero":false},"axis":null},"y":{"field":"y","type":"quantitative","scale":{"domain":[0,20],"nice":false,"zero":false},"axis":null},"detail":{"field":"g"},"order":{"field":"i","type":"quantitative"}}},
{"data":{"name":"grid"},"transform":[{"filter":"datum.g=='rim'||datum.g=='base'"},{"calculate":"datum.r*cos(datum.t*PI/180)","as":"x"},{"calculate":"datum.r*sin(datum.t*PI/180)","as":"y"},{"window":[{"op":"row_number","as":"i"}]}],"mark":{"type":"line","interpolate":"catmull-rom","stroke":"#4d4d4d","strokeWidth":0.8},"encoding":{"x":{"field":"x","type":"quantitative"},"y":{"field":"y","type":"quantitative"},"detail":{"field":"g"},"order":{"field":"i","type":"quantitative"}}},
{"data":{"name":"F1"},"transform":[{"calculate":"max(datum.d+20,0)","as":"r"},{"calculate":"datum.r*cos(datum.t*PI/180)","as":"x"},{"calculate":"datum.r*sin(datum.t*PI/180)","as":"y"},{"calculate":"(datum.b-1)%7","as":"k"},{"window":[{"op":"row_number","as":"i"}]}],"mark":{"type":"line","interpolate":"catmull-rom","strokeWidth":1.4},"encoding":{"x":{"field":"x","type":"quantitative"},"y":{"field":"y","type":"quantitative"},"detail":{"field":"b"},"color":{"field":"k","type":"nominal","scale":{"domain":[0,1,2,3,4,5,6],"range":["#0072BD","#D95319","#EDB120","#7E2F8E","#77AC30","#4DBEEE","#A2142F"]},"legend":null},"order":{"field":"i","type":"quantitative"}}},
{"data":{"name":"lab"},"transform":[{"calculate":"datum.t==90?21.4:(datum.t==0?21.7:(datum.t==180?22.6:(datum.t==60||datum.t==120?22.1:22.5)))","as":"rr"},{"calculate":"datum.rr*cos(datum.t*PI/180)","as":"x"},{"calculate":"datum.rr*sin(datum.t*PI/180)","as":"y"}],"mark":{"type":"text","fontSize":19,"font":"Liberation Sans, DejaVu Sans, sans-serif","color":"#262626","align":"center","baseline":"middle"},"encoding":{"x":{"field":"x","type":"quantitative"},"y":{"field":"y","type":"quantitative"},"text":{"field":"s"}}},
{"data":{"name":"dbl"},"transform":[{"calculate":"datum.v+20.3","as":"x"}],"mark":{"type":"text","fontSize":18,"font":"Liberation Sans, sans-serif","color":"#262626","align":"left","baseline":"alphabetic"},"encoding":{"x":{"field":"x","type":"quantitative"},"y":{"datum":0.5},"text":{"field":"s"}}},
{"data":{"values":[{"s":"dB"}]},"mark":{"type":"text","fontSize":18,"font":"Liberation Sans, sans-serif","color":"#262626","baseline":"alphabetic"},"encoding":{"x":{"datum":12.1},"y":{"datum":-2.2},"text":{"field":"s"}}},
{"data":{"values":[{"s":"ϕ"}]},"mark":{"type":"text","fontSize":20,"font":"DejaVu Serif, serif","fontStyle":"italic","color":"#262626","baseline":"middle"},"encoding":{"x":{"datum":21.3},"y":{"datum":5.3},"text":{"field":"s"}}},
{"data":{"values":[{"s":"F Level 1"}]},"mark":{"type":"text","fontSize":13,"fontWeight":"bold","font":"Liberation Sans, sans-serif","color":"#000000","baseline":"middle"},"encoding":{"x":{"datum":0},"y":{"datum":23},"text":{"field":"s"}}}]},
{"width":396,"height":198,"layer":[
{"data":{"name":"grid"},"transform":[{"filter":"datum.g!='rim'&&datum.g!='base'"},{"calculate":"datum.r*cos(datum.t*PI/180)","as":"x"},{"calculate":"datum.r*sin(datum.t*PI/180)","as":"y"},{"window":[{"op":"row_number","as":"i"}]}],"mark":{"type":"line","interpolate":"catmull-rom","stroke":"#8a8a8a","strokeWidth":0.8,"strokeDash":[1,2]},"encoding":{"x":{"field":"x","type":"quantitative","scale":{"domain":[-20,20],"nice":false,"zero":false},"axis":null},"y":{"field":"y","type":"quantitative","scale":{"domain":[0,20],"nice":false,"zero":false},"axis":null},"detail":{"field":"g"},"order":{"field":"i","type":"quantitative"}}},
{"data":{"name":"grid"},"transform":[{"filter":"datum.g=='rim'||datum.g=='base'"},{"calculate":"datum.r*cos(datum.t*PI/180)","as":"x"},{"calculate":"datum.r*sin(datum.t*PI/180)","as":"y"},{"window":[{"op":"row_number","as":"i"}]}],"mark":{"type":"line","interpolate":"catmull-rom","stroke":"#4d4d4d","strokeWidth":0.8},"encoding":{"x":{"field":"x","type":"quantitative"},"y":{"field":"y","type":"quantitative"},"detail":{"field":"g"},"order":{"field":"i","type":"quantitative"}}},
{"data":{"name":"W1"},"transform":[{"calculate":"max(datum.d+20,0)","as":"r"},{"calculate":"datum.r*cos(datum.t*PI/180)","as":"x"},{"calculate":"datum.r*sin(datum.t*PI/180)","as":"y"},{"calculate":"(datum.b-1)%7","as":"k"},{"window":[{"op":"row_number","as":"i"}]}],"mark":{"type":"line","interpolate":"catmull-rom","strokeWidth":1.4},"encoding":{"x":{"field":"x","type":"quantitative"},"y":{"field":"y","type":"quantitative"},"detail":{"field":"b"},"color":{"field":"k","type":"nominal","scale":{"domain":[0,1,2,3,4,5,6],"range":["#0072BD","#D95319","#EDB120","#7E2F8E","#77AC30","#4DBEEE","#A2142F"]},"legend":null},"order":{"field":"i","type":"quantitative"}}},
{"data":{"name":"lab"},"transform":[{"calculate":"datum.t==90?21.4:(datum.t==0?21.7:(datum.t==180?22.6:(datum.t==60||datum.t==120?22.1:22.5)))","as":"rr"},{"calculate":"datum.rr*cos(datum.t*PI/180)","as":"x"},{"calculate":"datum.rr*sin(datum.t*PI/180)","as":"y"}],"mark":{"type":"text","fontSize":19,"font":"Liberation Sans, DejaVu Sans, sans-serif","color":"#262626","align":"center","baseline":"middle"},"encoding":{"x":{"field":"x","type":"quantitative"},"y":{"field":"y","type":"quantitative"},"text":{"field":"s"}}},
{"data":{"name":"dbl"},"transform":[{"calculate":"datum.v+20.3","as":"x"}],"mark":{"type":"text","fontSize":18,"font":"Liberation Sans, sans-serif","color":"#262626","align":"left","baseline":"alphabetic"},"encoding":{"x":{"field":"x","type":"quantitative"},"y":{"datum":0.5},"text":{"field":"s"}}},
{"data":{"values":[{"s":"dB"}]},"mark":{"type":"text","fontSize":18,"font":"Liberation Sans, sans-serif","color":"#262626","baseline":"alphabetic"},"encoding":{"x":{"datum":12.1},"y":{"datum":-2.2},"text":{"field":"s"}}},
{"data":{"values":[{"s":"ϕ"}]},"mark":{"type":"text","fontSize":20,"font":"DejaVu Serif, serif","fontStyle":"italic","color":"#262626","baseline":"middle"},"encoding":{"x":{"datum":21.3},"y":{"datum":5.3},"text":{"field":"s"}}},
{"data":{"values":[{"s":"W Level 1"}]},"mark":{"type":"text","fontSize":13,"fontWeight":"bold","font":"Liberation Sans, sans-serif","color":"#000000","baseline":"middle"},"encoding":{"x":{"datum":0},"y":{"datum":23},"text":{"field":"s"}}}]},
{"width":396,"height":198,"layer":[
{"data":{"name":"grid"},"transform":[{"filter":"datum.g!='rim'&&datum.g!='base'"},{"calculate":"datum.r*cos(datum.t*PI/180)","as":"x"},{"calculate":"datum.r*sin(datum.t*PI/180)","as":"y"},{"window":[{"op":"row_number","as":"i"}]}],"mark":{"type":"line","interpolate":"catmull-rom","stroke":"#8a8a8a","strokeWidth":0.8,"strokeDash":[1,2]},"encoding":{"x":{"field":"x","type":"quantitative","scale":{"domain":[-20,20],"nice":false,"zero":false},"axis":null},"y":{"field":"y","type":"quantitative","scale":{"domain":[0,20],"nice":false,"zero":false},"axis":null},"detail":{"field":"g"},"order":{"field":"i","type":"quantitative"}}},
{"data":{"name":"grid"},"transform":[{"filter":"datum.g=='rim'||datum.g=='base'"},{"calculate":"datum.r*cos(datum.t*PI/180)","as":"x"},{"calculate":"datum.r*sin(datum.t*PI/180)","as":"y"},{"window":[{"op":"row_number","as":"i"}]}],"mark":{"type":"line","interpolate":"catmull-rom","stroke":"#4d4d4d","strokeWidth":0.8},"encoding":{"x":{"field":"x","type":"quantitative"},"y":{"field":"y","type":"quantitative"},"detail":{"field":"g"},"order":{"field":"i","type":"quantitative"}}},
{"data":{"name":"F2"},"transform":[{"calculate":"max(datum.d+20,0)","as":"r"},{"calculate":"datum.r*cos(datum.t*PI/180)","as":"x"},{"calculate":"datum.r*sin(datum.t*PI/180)","as":"y"},{"calculate":"(datum.b-1)%7","as":"k"},{"window":[{"op":"row_number","as":"i"}]}],"mark":{"type":"line","interpolate":"catmull-rom","strokeWidth":1.4},"encoding":{"x":{"field":"x","type":"quantitative"},"y":{"field":"y","type":"quantitative"},"detail":{"field":"b"},"color":{"field":"k","type":"nominal","scale":{"domain":[0,1,2,3,4,5,6],"range":["#0072BD","#D95319","#EDB120","#7E2F8E","#77AC30","#4DBEEE","#A2142F"]},"legend":null},"order":{"field":"i","type":"quantitative"}}},
{"data":{"name":"lab"},"transform":[{"calculate":"datum.t==90?21.4:(datum.t==0?21.7:(datum.t==180?22.6:(datum.t==60||datum.t==120?22.1:22.5)))","as":"rr"},{"calculate":"datum.rr*cos(datum.t*PI/180)","as":"x"},{"calculate":"datum.rr*sin(datum.t*PI/180)","as":"y"}],"mark":{"type":"text","fontSize":19,"font":"Liberation Sans, DejaVu Sans, sans-serif","color":"#262626","align":"center","baseline":"middle"},"encoding":{"x":{"field":"x","type":"quantitative"},"y":{"field":"y","type":"quantitative"},"text":{"field":"s"}}},
{"data":{"name":"dbl"},"transform":[{"calculate":"datum.v+20.3","as":"x"}],"mark":{"type":"text","fontSize":18,"font":"Liberation Sans, sans-serif","color":"#262626","align":"left","baseline":"alphabetic"},"encoding":{"x":{"field":"x","type":"quantitative"},"y":{"datum":0.5},"text":{"field":"s"}}},
{"data":{"values":[{"s":"dB"}]},"mark":{"type":"text","fontSize":18,"font":"Liberation Sans, sans-serif","color":"#262626","baseline":"alphabetic"},"encoding":{"x":{"datum":12.1},"y":{"datum":-2.2},"text":{"field":"s"}}},
{"data":{"values":[{"s":"ϕ"}]},"mark":{"type":"text","fontSize":20,"font":"DejaVu Serif, serif","fontStyle":"italic","color":"#262626","baseline":"middle"},"encoding":{"x":{"datum":21.3},"y":{"datum":5.3},"text":{"field":"s"}}},
{"data":{"values":[{"s":"F Level 2"}]},"mark":{"type":"text","fontSize":13,"fontWeight":"bold","font":"Liberation Sans, sans-serif","color":"#000000","baseline":"middle"},"encoding":{"x":{"datum":0},"y":{"datum":23},"text":{"field":"s"}}}]},
{"width":396,"height":198,"layer":[
{"data":{"name":"grid"},"transform":[{"filter":"datum.g!='rim'&&datum.g!='base'"},{"calculate":"datum.r*cos(datum.t*PI/180)","as":"x"},{"calculate":"datum.r*sin(datum.t*PI/180)","as":"y"},{"window":[{"op":"row_number","as":"i"}]}],"mark":{"type":"line","interpolate":"catmull-rom","stroke":"#8a8a8a","strokeWidth":0.8,"strokeDash":[1,2]},"encoding":{"x":{"field":"x","type":"quantitative","scale":{"domain":[-20,20],"nice":false,"zero":false},"axis":null},"y":{"field":"y","type":"quantitative","scale":{"domain":[0,20],"nice":false,"zero":false},"axis":null},"detail":{"field":"g"},"order":{"field":"i","type":"quantitative"}}},
{"data":{"name":"grid"},"transform":[{"filter":"datum.g=='rim'||datum.g=='base'"},{"calculate":"datum.r*cos(datum.t*PI/180)","as":"x"},{"calculate":"datum.r*sin(datum.t*PI/180)","as":"y"},{"window":[{"op":"row_number","as":"i"}]}],"mark":{"type":"line","interpolate":"catmull-rom","stroke":"#4d4d4d","strokeWidth":0.8},"encoding":{"x":{"field":"x","type":"quantitative"},"y":{"field":"y","type":"quantitative"},"detail":{"field":"g"},"order":{"field":"i","type":"quantitative"}}},
{"data":{"name":"W2"},"transform":[{"calculate":"max(datum.d+20,0)","as":"r"},{"calculate":"datum.r*cos(datum.t*PI/180)","as":"x"},{"calculate":"datum.r*sin(datum.t*PI/180)","as":"y"},{"calculate":"(datum.b-1)%7","as":"k"},{"window":[{"op":"row_number","as":"i"}]}],"mark":{"type":"line","interpolate":"catmull-rom","strokeWidth":1.4},"encoding":{"x":{"field":"x","type":"quantitative"},"y":{"field":"y","type":"quantitative"},"detail":{"field":"b"},"color":{"field":"k","type":"nominal","scale":{"domain":[0,1,2,3,4,5,6],"range":["#0072BD","#D95319","#EDB120","#7E2F8E","#77AC30","#4DBEEE","#A2142F"]},"legend":null},"order":{"field":"i","type":"quantitative"}}},
{"data":{"name":"lab"},"transform":[{"calculate":"datum.t==90?21.4:(datum.t==0?21.7:(datum.t==180?22.6:(datum.t==60||datum.t==120?22.1:22.5)))","as":"rr"},{"calculate":"datum.rr*cos(datum.t*PI/180)","as":"x"},{"calculate":"datum.rr*sin(datum.t*PI/180)","as":"y"}],"mark":{"type":"text","fontSize":19,"font":"Liberation Sans, DejaVu Sans, sans-serif","color":"#262626","align":"center","baseline":"middle"},"encoding":{"x":{"field":"x","type":"quantitative"},"y":{"field":"y","type":"quantitative"},"text":{"field":"s"}}},
{"data":{"name":"dbl"},"transform":[{"calculate":"datum.v+20.3","as":"x"}],"mark":{"type":"text","fontSize":18,"font":"Liberation Sans, sans-serif","color":"#262626","align":"left","baseline":"alphabetic"},"encoding":{"x":{"field":"x","type":"quantitative"},"y":{"datum":0.5},"text":{"field":"s"}}},
{"data":{"values":[{"s":"dB"}]},"mark":{"type":"text","fontSize":18,"font":"Liberation Sans, sans-serif","color":"#262626","baseline":"alphabetic"},"encoding":{"x":{"datum":12.1},"y":{"datum":-2.2},"text":{"field":"s"}}},
{"data":{"values":[{"s":"ϕ"}]},"mark":{"type":"text","fontSize":20,"font":"DejaVu Serif, serif","fontStyle":"italic","color":"#262626","baseline":"middle"},"encoding":{"x":{"datum":21.3},"y":{"datum":5.3},"text":{"field":"s"}}},
{"data":{"values":[{"s":"W Level 2"}]},"mark":{"type":"text","fontSize":13,"fontWeight":"bold","font":"Liberation Sans, sans-serif","color":"#000000","baseline":"middle"},"encoding":{"x":{"datum":0},"y":{"datum":23},"text":{"field":"s"}}}]},
{"width":396,"height":198,"layer":[
{"data":{"name":"grid"},"transform":[{"filter":"datum.g!='rim'&&datum.g!='base'"},{"calculate":"datum.r*cos(datum.t*PI/180)","as":"x"},{"calculate":"datum.r*sin(datum.t*PI/180)","as":"y"},{"window":[{"op":"row_number","as":"i"}]}],"mark":{"type":"line","interpolate":"catmull-rom","stroke":"#8a8a8a","strokeWidth":0.8,"strokeDash":[1,2]},"encoding":{"x":{"field":"x","type":"quantitative","scale":{"domain":[-20,20],"nice":false,"zero":false},"axis":null},"y":{"field":"y","type":"quantitative","scale":{"domain":[0,20],"nice":false,"zero":false},"axis":null},"detail":{"field":"g"},"order":{"field":"i","type":"quantitative"}}},
{"data":{"name":"grid"},"transform":[{"filter":"datum.g=='rim'||datum.g=='base'"},{"calculate":"datum.r*cos(datum.t*PI/180)","as":"x"},{"calculate":"datum.r*sin(datum.t*PI/180)","as":"y"},{"window":[{"op":"row_number","as":"i"}]}],"mark":{"type":"line","interpolate":"catmull-rom","stroke":"#4d4d4d","strokeWidth":0.8},"encoding":{"x":{"field":"x","type":"quantitative"},"y":{"field":"y","type":"quantitative"},"detail":{"field":"g"},"order":{"field":"i","type":"quantitative"}}},
{"data":{"name":"F3"},"transform":[{"calculate":"max(datum.d+20,0)","as":"r"},{"calculate":"datum.r*cos(datum.t*PI/180)","as":"x"},{"calculate":"datum.r*sin(datum.t*PI/180)","as":"y"},{"calculate":"(datum.b-1)%7","as":"k"},{"window":[{"op":"row_number","as":"i"}]}],"mark":{"type":"line","interpolate":"catmull-rom","strokeWidth":1.4},"encoding":{"x":{"field":"x","type":"quantitative"},"y":{"field":"y","type":"quantitative"},"detail":{"field":"b"},"color":{"field":"k","type":"nominal","scale":{"domain":[0,1,2,3,4,5,6],"range":["#0072BD","#D95319","#EDB120","#7E2F8E","#77AC30","#4DBEEE","#A2142F"]},"legend":null},"order":{"field":"i","type":"quantitative"}}},
{"data":{"name":"lab"},"transform":[{"calculate":"datum.t==90?21.4:(datum.t==0?21.7:(datum.t==180?22.6:(datum.t==60||datum.t==120?22.1:22.5)))","as":"rr"},{"calculate":"datum.rr*cos(datum.t*PI/180)","as":"x"},{"calculate":"datum.rr*sin(datum.t*PI/180)","as":"y"}],"mark":{"type":"text","fontSize":19,"font":"Liberation Sans, DejaVu Sans, sans-serif","color":"#262626","align":"center","baseline":"middle"},"encoding":{"x":{"field":"x","type":"quantitative"},"y":{"field":"y","type":"quantitative"},"text":{"field":"s"}}},
{"data":{"name":"dbl"},"transform":[{"calculate":"datum.v+20.3","as":"x"}],"mark":{"type":"text","fontSize":18,"font":"Liberation Sans, sans-serif","color":"#262626","align":"left","baseline":"alphabetic"},"encoding":{"x":{"field":"x","type":"quantitative"},"y":{"datum":0.5},"text":{"field":"s"}}},
{"data":{"values":[{"s":"dB"}]},"mark":{"type":"text","fontSize":18,"font":"Liberation Sans, sans-serif","color":"#262626","baseline":"alphabetic"},"encoding":{"x":{"datum":12.1},"y":{"datum":-2.2},"text":{"field":"s"}}},
{"data":{"values":[{"s":"ϕ"}]},"mark":{"type":"text","fontSize":20,"font":"DejaVu Serif, serif","fontStyle":"italic","color":"#262626","baseline":"middle"},"encoding":{"x":{"datum":21.3},"y":{"datum":5.3},"text":{"field":"s"}}},
{"data":{"values":[{"s":"F Level 3"}]},"mark":{"type":"text","fontSize":13,"fontWeight":"bold","font":"Liberation Sans, sans-serif","color":"#000000","baseline":"middle"},"encoding":{"x":{"datum":0},"y":{"datum":23},"text":{"field":"s"}}}]},
{"width":396,"height":198,"layer":[
{"data":{"name":"grid"},"transform":[{"filter":"datum.g!='rim'&&datum.g!='base'"},{"calculate":"datum.r*cos(datum.t*PI/180)","as":"x"},{"calculate":"datum.r*sin(datum.t*PI/180)","as":"y"},{"window":[{"op":"row_number","as":"i"}]}],"mark":{"type":"line","interpolate":"catmull-rom","stroke":"#8a8a8a","strokeWidth":0.8,"strokeDash":[1,2]},"encoding":{"x":{"field":"x","type":"quantitative","scale":{"domain":[-20,20],"nice":false,"zero":false},"axis":null},"y":{"field":"y","type":"quantitative","scale":{"domain":[0,20],"nice":false,"zero":false},"axis":null},"detail":{"field":"g"},"order":{"field":"i","type":"quantitative"}}},
{"data":{"name":"grid"},"transform":[{"filter":"datum.g=='rim'||datum.g=='base'"},{"calculate":"datum.r*cos(datum.t*PI/180)","as":"x"},{"calculate":"datum.r*sin(datum.t*PI/180)","as":"y"},{"window":[{"op":"row_number","as":"i"}]}],"mark":{"type":"line","interpolate":"catmull-rom","stroke":"#4d4d4d","strokeWidth":0.8},"encoding":{"x":{"field":"x","type":"quantitative"},"y":{"field":"y","type":"quantitative"},"detail":{"field":"g"},"order":{"field":"i","type":"quantitative"}}},
{"data":{"name":"W3"},"transform":[{"calculate":"max(datum.d+20,0)","as":"r"},{"calculate":"datum.r*cos(datum.t*PI/180)","as":"x"},{"calculate":"datum.r*sin(datum.t*PI/180)","as":"y"},{"calculate":"(datum.b-1)%7","as":"k"},{"window":[{"op":"row_number","as":"i"}]}],"mark":{"type":"line","interpolate":"catmull-rom","strokeWidth":1.4},"encoding":{"x":{"field":"x","type":"quantitative"},"y":{"field":"y","type":"quantitative"},"detail":{"field":"b"},"color":{"field":"k","type":"nominal","scale":{"domain":[0,1,2,3,4,5,6],"range":["#0072BD","#D95319","#EDB120","#7E2F8E","#77AC30","#4DBEEE","#A2142F"]},"legend":null},"order":{"field":"i","type":"quantitative"}}},
{"data":{"name":"lab"},"transform":[{"calculate":"datum.t==90?21.4:(datum.t==0?21.7:(datum.t==180?22.6:(datum.t==60||datum.t==120?22.1:22.5)))","as":"rr"},{"calculate":"datum.rr*cos(datum.t*PI/180)","as":"x"},{"calculate":"datum.rr*sin(datum.t*PI/180)","as":"y"}],"mark":{"type":"text","fontSize":19,"font":"Liberation Sans, DejaVu Sans, sans-serif","color":"#262626","align":"center","baseline":"middle"},"encoding":{"x":{"field":"x","type":"quantitative"},"y":{"field":"y","type":"quantitative"},"text":{"field":"s"}}},
{"data":{"name":"dbl"},"transform":[{"calculate":"datum.v+20.3","as":"x"}],"mark":{"type":"text","fontSize":18,"font":"Liberation Sans, sans-serif","color":"#262626","align":"left","baseline":"alphabetic"},"encoding":{"x":{"field":"x","type":"quantitative"},"y":{"datum":0.5},"text":{"field":"s"}}},
{"data":{"values":[{"s":"dB"}]},"mark":{"type":"text","fontSize":18,"font":"Liberation Sans, sans-serif","color":"#262626","baseline":"alphabetic"},"encoding":{"x":{"datum":12.1},"y":{"datum":-2.2},"text":{"field":"s"}}},
{"data":{"values":[{"s":"ϕ"}]},"mark":{"type":"text","fontSize":20,"font":"DejaVu Serif, serif","fontStyle":"italic","color":"#262626","baseline":"middle"},"encoding":{"x":{"datum":21.3},"y":{"datum":5.3},"text":{"field":"s"}}},
{"data":{"values":[{"s":"W Level 3"}]},"mark":{"type":"text","fontSize":13,"fontWeight":"bold","font":"Liberation Sans, sans-serif","color":"#000000","baseline":"middle"},"encoding":{"x":{"datum":0},"y":{"datum":23},"text":{"field":"s"}}}]},
{"width":396,"height":198,"layer":[
{"data":{"name":"grid"},"transform":[{"filter":"datum.g!='rim'&&datum.g!='base'"},{"calculate":"datum.r*cos(datum.t*PI/180)","as":"x"},{"calculate":"datum.r*sin(datum.t*PI/180)","as":"y"},{"window":[{"op":"row_number","as":"i"}]}],"mark":{"type":"line","interpolate":"catmull-rom","stroke":"#8a8a8a","strokeWidth":0.8,"strokeDash":[1,2]},"encoding":{"x":{"field":"x","type":"quantitative","scale":{"domain":[-20,20],"nice":false,"zero":false},"axis":null},"y":{"field":"y","type":"quantitative","scale":{"domain":[0,20],"nice":false,"zero":false},"axis":null},"detail":{"field":"g"},"order":{"field":"i","type":"quantitative"}}},
{"data":{"name":"grid"},"transform":[{"filter":"datum.g=='rim'||datum.g=='base'"},{"calculate":"datum.r*cos(datum.t*PI/180)","as":"x"},{"calculate":"datum.r*sin(datum.t*PI/180)","as":"y"},{"window":[{"op":"row_number","as":"i"}]}],"mark":{"type":"line","interpolate":"catmull-rom","stroke":"#4d4d4d","strokeWidth":0.8},"encoding":{"x":{"field":"x","type":"quantitative"},"y":{"field":"y","type":"quantitative"},"detail":{"field":"g"},"order":{"field":"i","type":"quantitative"}}},
{"data":{"name":"F4"},"transform":[{"calculate":"max(datum.d+20,0)","as":"r"},{"calculate":"datum.r*cos(datum.t*PI/180)","as":"x"},{"calculate":"datum.r*sin(datum.t*PI/180)","as":"y"},{"calculate":"(datum.b-1)%7","as":"k"},{"window":[{"op":"row_number","as":"i"}]}],"mark":{"type":"line","interpolate":"catmull-rom","strokeWidth":1.4},"encoding":{"x":{"field":"x","type":"quantitative"},"y":{"field":"y","type":"quantitative"},"detail":{"field":"b"},"color":{"field":"k","type":"nominal","scale":{"domain":[0,1,2,3,4,5,6],"range":["#0072BD","#D95319","#EDB120","#7E2F8E","#77AC30","#4DBEEE","#A2142F"]},"legend":null},"order":{"field":"i","type":"quantitative"}}},
{"data":{"name":"lab"},"transform":[{"calculate":"datum.t==90?21.4:(datum.t==0?21.7:(datum.t==180?22.6:(datum.t==60||datum.t==120?22.1:22.5)))","as":"rr"},{"calculate":"datum.rr*cos(datum.t*PI/180)","as":"x"},{"calculate":"datum.rr*sin(datum.t*PI/180)","as":"y"}],"mark":{"type":"text","fontSize":19,"font":"Liberation Sans, DejaVu Sans, sans-serif","color":"#262626","align":"center","baseline":"middle"},"encoding":{"x":{"field":"x","type":"quantitative"},"y":{"field":"y","type":"quantitative"},"text":{"field":"s"}}},
{"data":{"name":"dbl"},"transform":[{"calculate":"datum.v+20.3","as":"x"}],"mark":{"type":"text","fontSize":18,"font":"Liberation Sans, sans-serif","color":"#262626","align":"left","baseline":"alphabetic"},"encoding":{"x":{"field":"x","type":"quantitative"},"y":{"datum":0.5},"text":{"field":"s"}}},
{"data":{"values":[{"s":"dB"}]},"mark":{"type":"text","fontSize":18,"font":"Liberation Sans, sans-serif","color":"#262626","baseline":"alphabetic"},"encoding":{"x":{"datum":12.1},"y":{"datum":-2.2},"text":{"field":"s"}}},
{"data":{"values":[{"s":"ϕ"}]},"mark":{"type":"text","fontSize":20,"font":"DejaVu Serif, serif","fontStyle":"italic","color":"#262626","baseline":"middle"},"encoding":{"x":{"datum":21.3},"y":{"datum":5.3},"text":{"field":"s"}}},
{"data":{"values":[{"s":"F Level 4"}]},"mark":{"type":"text","fontSize":13,"fontWeight":"bold","font":"Liberation Sans, sans-serif","color":"#000000","baseline":"middle"},"encoding":{"x":{"datum":0},"y":{"datum":23},"text":{"field":"s"}}}]},
{"width":396,"height":198,"layer":[
{"data":{"name":"grid"},"transform":[{"filter":"datum.g!='rim'&&datum.g!='base'"},{"calculate":"datum.r*cos(datum.t*PI/180)","as":"x"},{"calculate":"datum.r*sin(datum.t*PI/180)","as":"y"},{"window":[{"op":"row_number","as":"i"}]}],"mark":{"type":"line","interpolate":"catmull-rom","stroke":"#8a8a8a","strokeWidth":0.8,"strokeDash":[1,2]},"encoding":{"x":{"field":"x","type":"quantitative","scale":{"domain":[-20,20],"nice":false,"zero":false},"axis":null},"y":{"field":"y","type":"quantitative","scale":{"domain":[0,20],"nice":false,"zero":false},"axis":null},"detail":{"field":"g"},"order":{"field":"i","type":"quantitative"}}},
{"data":{"name":"grid"},"transform":[{"filter":"datum.g=='rim'||datum.g=='base'"},{"calculate":"datum.r*cos(datum.t*PI/180)","as":"x"},{"calculate":"datum.r*sin(datum.t*PI/180)","as":"y"},{"window":[{"op":"row_number","as":"i"}]}],"mark":{"type":"line","interpolate":"catmull-rom","stroke":"#4d4d4d","strokeWidth":0.8},"encoding":{"x":{"field":"x","type":"quantitative"},"y":{"field":"y","type":"quantitative"},"detail":{"field":"g"},"order":{"field":"i","type":"quantitative"}}},
{"data":{"name":"W4"},"transform":[{"calculate":"max(datum.d+20,0)","as":"r"},{"calculate":"datum.r*cos(datum.t*PI/180)","as":"x"},{"calculate":"datum.r*sin(datum.t*PI/180)","as":"y"},{"calculate":"(datum.b-1)%7","as":"k"},{"window":[{"op":"row_number","as":"i"}]}],"mark":{"type":"line","interpolate":"catmull-rom","strokeWidth":1.4},"encoding":{"x":{"field":"x","type":"quantitative"},"y":{"field":"y","type":"quantitative"},"detail":{"field":"b"},"color":{"field":"k","type":"nominal","scale":{"domain":[0,1,2,3,4,5,6],"range":["#0072BD","#D95319","#EDB120","#7E2F8E","#77AC30","#4DBEEE","#A2142F"]},"legend":null},"order":{"field":"i","type":"quantitative"}}},
{"data":{"name":"lab"},"transform":[{"calculate":"datum.t==90?21.4:(datum.t==0?21.7:(datum.t==180?22.6:(datum.t==60||datum.t==120?22.1:22.5)))","as":"rr"},{"calculate":"datum.rr*cos(datum.t*PI/180)","as":"x"},{"calculate":"datum.rr*sin(datum.t*PI/180)","as":"y"}],"mark":{"type":"text","fontSize":19,"font":"Liberation Sans, DejaVu Sans, sans-serif","color":"#262626","align":"center","baseline":"middle"},"encoding":{"x":{"field":"x","type":"quantitative"},"y":{"field":"y","type":"quantitative"},"text":{"field":"s"}}},
{"data":{"name":"dbl"},"transform":[{"calculate":"datum.v+20.3","as":"x"}],"mark":{"type":"text","fontSize":18,"font":"Liberation Sans, sans-serif","color":"#262626","align":"left","baseline":"alphabetic"},"encoding":{"x":{"field":"x","type":"quantitative"},"y":{"datum":0.5},"text":{"field":"s"}}},
{"data":{"values":[{"s":"dB"}]},"mark":{"type":"text","fontSize":18,"font":"Liberation Sans, sans-serif","color":"#262626","baseline":"alphabetic"},"encoding":{"x":{"datum":12.1},"y":{"datum":-2.2},"text":{"field":"s"}}},
{"data":{"values":[{"s":"ϕ"}]},"mark":{"type":"text","fontSize":20,"font":"DejaVu Serif, serif","fontStyle":"italic","color":"#262626","baseline":"middle"},"encoding":{"x":{"datum":21.3},"y":{"datum":5.3},"text":{"field":"s"}}},
{"data":{"values":[{"s":"W Level 4"}]},"mark":{"type":"text","fontSize":13,"fontWeight":"bold","font":"Liberation Sans, sans-serif","color":"#000000","baseline":"middle"},"encoding":{"x":{"datum":0},"y":{"datum":23},"text":{"field":"s"}}}]}
]}
